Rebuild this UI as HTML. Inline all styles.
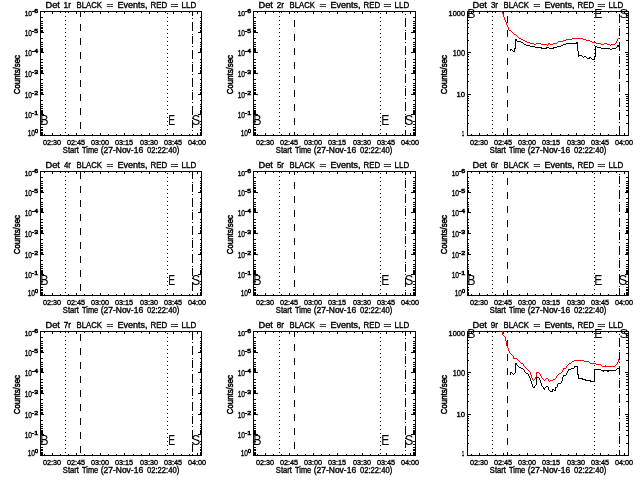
<!DOCTYPE html>
<html><head><meta charset="utf-8"><title>Det rates</title>
<style>html,body{margin:0;padding:0;background:#fff;width:640px;height:480px;overflow:hidden}svg{display:block}text{fill:#000;stroke:#000;stroke-width:0.35px}text.g{stroke-width:0}text.x{stroke-width:0.6px}text.c{stroke-width:0.5px}</style>
</head><body>
<svg width="640" height="480" viewBox="0 0 640 480" font-family="'Liberation Sans', Arial, sans-serif" shape-rendering="crispEdges">
<rect x="0" y="0" width="640" height="480" fill="#fff"/>
<rect x="40" y="11" width="162" height="1" fill="#000"/>
<rect x="40" y="135" width="162" height="1" fill="#000"/>
<rect x="40" y="11" width="1" height="125" fill="#000"/>
<rect x="201" y="11" width="1" height="125" fill="#000"/>
<rect x="44" y="12" width="1" height="1" fill="#000"/>
<rect x="44" y="134" width="1" height="1" fill="#000"/>
<rect x="52" y="12" width="1" height="2" fill="#000"/>
<rect x="52" y="133" width="1" height="2" fill="#000"/>
<rect x="60" y="12" width="1" height="1" fill="#000"/>
<rect x="60" y="134" width="1" height="1" fill="#000"/>
<rect x="68" y="12" width="1" height="1" fill="#000"/>
<rect x="68" y="134" width="1" height="1" fill="#000"/>
<rect x="76" y="12" width="1" height="2" fill="#000"/>
<rect x="76" y="133" width="1" height="2" fill="#000"/>
<rect x="84" y="12" width="1" height="1" fill="#000"/>
<rect x="84" y="134" width="1" height="1" fill="#000"/>
<rect x="92" y="12" width="1" height="1" fill="#000"/>
<rect x="92" y="134" width="1" height="1" fill="#000"/>
<rect x="100" y="12" width="1" height="2" fill="#000"/>
<rect x="100" y="133" width="1" height="2" fill="#000"/>
<rect x="108" y="12" width="1" height="1" fill="#000"/>
<rect x="108" y="134" width="1" height="1" fill="#000"/>
<rect x="116" y="12" width="1" height="1" fill="#000"/>
<rect x="116" y="134" width="1" height="1" fill="#000"/>
<rect x="124" y="12" width="1" height="2" fill="#000"/>
<rect x="124" y="133" width="1" height="2" fill="#000"/>
<rect x="133" y="12" width="1" height="1" fill="#000"/>
<rect x="133" y="134" width="1" height="1" fill="#000"/>
<rect x="141" y="12" width="1" height="1" fill="#000"/>
<rect x="141" y="134" width="1" height="1" fill="#000"/>
<rect x="149" y="12" width="1" height="2" fill="#000"/>
<rect x="149" y="133" width="1" height="2" fill="#000"/>
<rect x="157" y="12" width="1" height="1" fill="#000"/>
<rect x="157" y="134" width="1" height="1" fill="#000"/>
<rect x="165" y="12" width="1" height="1" fill="#000"/>
<rect x="165" y="134" width="1" height="1" fill="#000"/>
<rect x="173" y="12" width="1" height="2" fill="#000"/>
<rect x="173" y="133" width="1" height="2" fill="#000"/>
<rect x="181" y="12" width="1" height="1" fill="#000"/>
<rect x="181" y="134" width="1" height="1" fill="#000"/>
<rect x="189" y="12" width="1" height="1" fill="#000"/>
<rect x="189" y="134" width="1" height="1" fill="#000"/>
<rect x="197" y="12" width="1" height="2" fill="#000"/>
<rect x="197" y="133" width="1" height="2" fill="#000"/>
<text x="42.92" y="145" font-size="7.2" textLength="18.17" lengthAdjust="spacingAndGlyphs">02:30</text>
<text x="66.92" y="145" font-size="7.2" textLength="18.19" lengthAdjust="spacingAndGlyphs">02:45</text>
<text x="90.92" y="145" font-size="7.2" textLength="18.17" lengthAdjust="spacingAndGlyphs">03:00</text>
<text x="114.92" y="145" font-size="7.2" textLength="18.19" lengthAdjust="spacingAndGlyphs">03:15</text>
<text x="139.92" y="145" font-size="7.2" textLength="18.17" lengthAdjust="spacingAndGlyphs">03:30</text>
<text x="163.92" y="145" font-size="7.2" textLength="18.19" lengthAdjust="spacingAndGlyphs">03:45</text>
<text x="187.92" y="145" font-size="7.2" textLength="18.17" lengthAdjust="spacingAndGlyphs">04:00</text>
<text x="62.86" y="153" font-size="8.4" textLength="16.00" lengthAdjust="spacingAndGlyphs">Start</text>
<text x="82.04" y="153" font-size="8.4" textLength="16.08" lengthAdjust="spacingAndGlyphs">Time</text>
<text x="100.67" y="153" font-size="8.4" textLength="42.50" lengthAdjust="spacingAndGlyphs">(27-Nov-16</text>
<text x="146.90" y="153" font-size="8.4" textLength="32.37" lengthAdjust="spacingAndGlyphs">02:22:40)</text>
<text x="45.44" y="8" font-size="8.4" textLength="14.43" lengthAdjust="spacingAndGlyphs">Det</text>
<text x="63.57" y="8" font-size="8.4" textLength="7.37" lengthAdjust="spacingAndGlyphs">1r</text>
<text x="76.57" y="8" font-size="8.4" textLength="25.32" lengthAdjust="spacingAndGlyphs">BLACK</text>
<text x="106.64" y="8" font-size="8.4" textLength="6.73" lengthAdjust="spacingAndGlyphs">=</text>
<text x="117.46" y="8" font-size="8.4" textLength="30.15" lengthAdjust="spacingAndGlyphs">Events,</text>
<text x="150.55" y="8" font-size="8.4" textLength="16.62" lengthAdjust="spacingAndGlyphs">RED</text>
<text x="170.54" y="8" font-size="8.4" textLength="7.93" lengthAdjust="spacingAndGlyphs">=</text>
<text x="181.55" y="8" font-size="8.4" textLength="14.64" lengthAdjust="spacingAndGlyphs">LLD</text>
<text transform="translate(20,94.20) rotate(-90)" font-size="8.4" textLength="39.20" lengthAdjust="spacingAndGlyphs" class="c">Counts/sec</text>
<rect x="41" y="11" width="3" height="1" fill="#000"/>
<rect x="198" y="11" width="3" height="1" fill="#000"/>
<rect x="41" y="17" width="2" height="1" fill="#000"/>
<rect x="200" y="17" width="1" height="1" fill="#000"/>
<rect x="41" y="21" width="2" height="1" fill="#000"/>
<rect x="200" y="21" width="1" height="1" fill="#000"/>
<rect x="41" y="23" width="2" height="1" fill="#000"/>
<rect x="200" y="23" width="1" height="1" fill="#000"/>
<rect x="41" y="25" width="2" height="1" fill="#000"/>
<rect x="200" y="25" width="1" height="1" fill="#000"/>
<rect x="41" y="27" width="2" height="1" fill="#000"/>
<rect x="200" y="27" width="1" height="1" fill="#000"/>
<rect x="41" y="28" width="2" height="1" fill="#000"/>
<rect x="200" y="28" width="1" height="1" fill="#000"/>
<rect x="41" y="30" width="2" height="1" fill="#000"/>
<rect x="200" y="30" width="1" height="1" fill="#000"/>
<rect x="41" y="31" width="2" height="1" fill="#000"/>
<rect x="200" y="31" width="1" height="1" fill="#000"/>
<text x="24.70" y="16" font-size="7.2" textLength="7.36" lengthAdjust="spacingAndGlyphs">10</text>
<text x="31.89" y="13" font-size="6" textLength="6.22" lengthAdjust="spacingAndGlyphs" class="x">-6</text>
<rect x="41" y="32" width="3" height="1" fill="#000"/>
<rect x="198" y="32" width="3" height="1" fill="#000"/>
<rect x="41" y="38" width="2" height="1" fill="#000"/>
<rect x="200" y="38" width="1" height="1" fill="#000"/>
<rect x="41" y="42" width="2" height="1" fill="#000"/>
<rect x="200" y="42" width="1" height="1" fill="#000"/>
<rect x="41" y="44" width="2" height="1" fill="#000"/>
<rect x="200" y="44" width="1" height="1" fill="#000"/>
<rect x="41" y="46" width="2" height="1" fill="#000"/>
<rect x="200" y="46" width="1" height="1" fill="#000"/>
<rect x="41" y="48" width="2" height="1" fill="#000"/>
<rect x="200" y="48" width="1" height="1" fill="#000"/>
<rect x="41" y="49" width="2" height="1" fill="#000"/>
<rect x="200" y="49" width="1" height="1" fill="#000"/>
<rect x="41" y="50" width="2" height="1" fill="#000"/>
<rect x="200" y="50" width="1" height="1" fill="#000"/>
<rect x="41" y="51" width="2" height="1" fill="#000"/>
<rect x="200" y="51" width="1" height="1" fill="#000"/>
<text x="24.70" y="36" font-size="8.4" textLength="7.36" lengthAdjust="spacingAndGlyphs">10</text>
<text x="31.89" y="33" font-size="6" textLength="6.20" lengthAdjust="spacingAndGlyphs" class="x">-5</text>
<rect x="41" y="52" width="3" height="1" fill="#000"/>
<rect x="198" y="52" width="3" height="1" fill="#000"/>
<rect x="41" y="59" width="2" height="1" fill="#000"/>
<rect x="200" y="59" width="1" height="1" fill="#000"/>
<rect x="41" y="62" width="2" height="1" fill="#000"/>
<rect x="200" y="62" width="1" height="1" fill="#000"/>
<rect x="41" y="65" width="2" height="1" fill="#000"/>
<rect x="200" y="65" width="1" height="1" fill="#000"/>
<rect x="41" y="67" width="2" height="1" fill="#000"/>
<rect x="200" y="67" width="1" height="1" fill="#000"/>
<rect x="41" y="68" width="2" height="1" fill="#000"/>
<rect x="200" y="68" width="1" height="1" fill="#000"/>
<rect x="41" y="70" width="2" height="1" fill="#000"/>
<rect x="200" y="70" width="1" height="1" fill="#000"/>
<rect x="41" y="71" width="2" height="1" fill="#000"/>
<rect x="200" y="71" width="1" height="1" fill="#000"/>
<rect x="41" y="72" width="2" height="1" fill="#000"/>
<rect x="200" y="72" width="1" height="1" fill="#000"/>
<text x="24.70" y="56" font-size="8.4" textLength="7.36" lengthAdjust="spacingAndGlyphs">10</text>
<text x="31.89" y="53" font-size="6" textLength="6.11" lengthAdjust="spacingAndGlyphs" class="x">-4</text>
<rect x="41" y="73" width="3" height="1" fill="#000"/>
<rect x="198" y="73" width="3" height="1" fill="#000"/>
<rect x="41" y="79" width="2" height="1" fill="#000"/>
<rect x="200" y="79" width="1" height="1" fill="#000"/>
<rect x="41" y="83" width="2" height="1" fill="#000"/>
<rect x="200" y="83" width="1" height="1" fill="#000"/>
<rect x="41" y="85" width="2" height="1" fill="#000"/>
<rect x="200" y="85" width="1" height="1" fill="#000"/>
<rect x="41" y="87" width="2" height="1" fill="#000"/>
<rect x="200" y="87" width="1" height="1" fill="#000"/>
<rect x="41" y="89" width="2" height="1" fill="#000"/>
<rect x="200" y="89" width="1" height="1" fill="#000"/>
<rect x="41" y="90" width="2" height="1" fill="#000"/>
<rect x="200" y="90" width="1" height="1" fill="#000"/>
<rect x="41" y="92" width="2" height="1" fill="#000"/>
<rect x="200" y="92" width="1" height="1" fill="#000"/>
<rect x="41" y="93" width="2" height="1" fill="#000"/>
<rect x="200" y="93" width="1" height="1" fill="#000"/>
<text x="24.70" y="77" font-size="8.4" textLength="7.36" lengthAdjust="spacingAndGlyphs">10</text>
<text x="31.89" y="74" font-size="6" textLength="6.22" lengthAdjust="spacingAndGlyphs" class="x">-3</text>
<rect x="41" y="94" width="3" height="1" fill="#000"/>
<rect x="198" y="94" width="3" height="1" fill="#000"/>
<rect x="41" y="100" width="2" height="1" fill="#000"/>
<rect x="200" y="100" width="1" height="1" fill="#000"/>
<rect x="41" y="104" width="2" height="1" fill="#000"/>
<rect x="200" y="104" width="1" height="1" fill="#000"/>
<rect x="41" y="106" width="2" height="1" fill="#000"/>
<rect x="200" y="106" width="1" height="1" fill="#000"/>
<rect x="41" y="108" width="2" height="1" fill="#000"/>
<rect x="200" y="108" width="1" height="1" fill="#000"/>
<rect x="41" y="110" width="2" height="1" fill="#000"/>
<rect x="200" y="110" width="1" height="1" fill="#000"/>
<rect x="41" y="111" width="2" height="1" fill="#000"/>
<rect x="200" y="111" width="1" height="1" fill="#000"/>
<rect x="41" y="112" width="2" height="1" fill="#000"/>
<rect x="200" y="112" width="1" height="1" fill="#000"/>
<rect x="41" y="113" width="2" height="1" fill="#000"/>
<rect x="200" y="113" width="1" height="1" fill="#000"/>
<text x="24.70" y="98" font-size="8.4" textLength="7.36" lengthAdjust="spacingAndGlyphs">10</text>
<text x="31.89" y="95" font-size="6" textLength="6.27" lengthAdjust="spacingAndGlyphs" class="x">-2</text>
<rect x="41" y="114" width="3" height="1" fill="#000"/>
<rect x="198" y="114" width="3" height="1" fill="#000"/>
<rect x="41" y="121" width="2" height="1" fill="#000"/>
<rect x="200" y="121" width="1" height="1" fill="#000"/>
<rect x="41" y="124" width="2" height="1" fill="#000"/>
<rect x="200" y="124" width="1" height="1" fill="#000"/>
<rect x="41" y="127" width="2" height="1" fill="#000"/>
<rect x="200" y="127" width="1" height="1" fill="#000"/>
<rect x="41" y="129" width="2" height="1" fill="#000"/>
<rect x="200" y="129" width="1" height="1" fill="#000"/>
<rect x="41" y="130" width="2" height="1" fill="#000"/>
<rect x="200" y="130" width="1" height="1" fill="#000"/>
<rect x="41" y="132" width="2" height="1" fill="#000"/>
<rect x="200" y="132" width="1" height="1" fill="#000"/>
<rect x="41" y="133" width="2" height="1" fill="#000"/>
<rect x="200" y="133" width="1" height="1" fill="#000"/>
<rect x="41" y="134" width="2" height="1" fill="#000"/>
<rect x="200" y="134" width="1" height="1" fill="#000"/>
<text x="24.70" y="118" font-size="8.4" textLength="7.36" lengthAdjust="spacingAndGlyphs">10</text>
<text x="31.89" y="115" font-size="6" textLength="6.26" lengthAdjust="spacingAndGlyphs" class="x">-1</text>
<rect x="41" y="135" width="3" height="1" fill="#000"/>
<rect x="198" y="135" width="3" height="1" fill="#000"/>
<text x="27.70" y="136" font-size="8.4" textLength="7.36" lengthAdjust="spacingAndGlyphs">10</text>
<text x="34.99" y="133" font-size="6" textLength="3.02" lengthAdjust="spacingAndGlyphs" class="x">0</text>
<rect x="65" y="12" width="1" height="1" fill="#000"/>
<rect x="65" y="16" width="1" height="1" fill="#000"/>
<rect x="65" y="20" width="1" height="1" fill="#000"/>
<rect x="65" y="24" width="1" height="1" fill="#000"/>
<rect x="65" y="28" width="1" height="1" fill="#000"/>
<rect x="65" y="32" width="1" height="1" fill="#000"/>
<rect x="65" y="36" width="1" height="1" fill="#000"/>
<rect x="65" y="40" width="1" height="1" fill="#000"/>
<rect x="65" y="44" width="1" height="1" fill="#000"/>
<rect x="65" y="48" width="1" height="1" fill="#000"/>
<rect x="65" y="52" width="1" height="1" fill="#000"/>
<rect x="65" y="56" width="1" height="1" fill="#000"/>
<rect x="65" y="60" width="1" height="1" fill="#000"/>
<rect x="65" y="64" width="1" height="1" fill="#000"/>
<rect x="65" y="68" width="1" height="1" fill="#000"/>
<rect x="65" y="72" width="1" height="1" fill="#000"/>
<rect x="65" y="76" width="1" height="1" fill="#000"/>
<rect x="65" y="80" width="1" height="1" fill="#000"/>
<rect x="65" y="84" width="1" height="1" fill="#000"/>
<rect x="65" y="88" width="1" height="1" fill="#000"/>
<rect x="65" y="92" width="1" height="1" fill="#000"/>
<rect x="65" y="96" width="1" height="1" fill="#000"/>
<rect x="65" y="100" width="1" height="1" fill="#000"/>
<rect x="65" y="104" width="1" height="1" fill="#000"/>
<rect x="65" y="108" width="1" height="1" fill="#000"/>
<rect x="65" y="112" width="1" height="1" fill="#000"/>
<rect x="65" y="116" width="1" height="1" fill="#000"/>
<rect x="65" y="120" width="1" height="1" fill="#000"/>
<rect x="65" y="124" width="1" height="1" fill="#000"/>
<rect x="65" y="128" width="1" height="1" fill="#000"/>
<rect x="65" y="132" width="1" height="1" fill="#000"/>
<rect x="80" y="12" width="1" height="5" fill="#000"/>
<rect x="80" y="24" width="1" height="7" fill="#000"/>
<rect x="80" y="38" width="1" height="7" fill="#000"/>
<rect x="80" y="52" width="1" height="7" fill="#000"/>
<rect x="80" y="66" width="1" height="7" fill="#000"/>
<rect x="80" y="80" width="1" height="7" fill="#000"/>
<rect x="80" y="94" width="1" height="7" fill="#000"/>
<rect x="80" y="108" width="1" height="7" fill="#000"/>
<rect x="80" y="122" width="1" height="7" fill="#000"/>
<rect x="167" y="13" width="1" height="1" fill="#000"/>
<rect x="167" y="17" width="1" height="1" fill="#000"/>
<rect x="167" y="21" width="1" height="1" fill="#000"/>
<rect x="167" y="25" width="1" height="1" fill="#000"/>
<rect x="167" y="29" width="1" height="1" fill="#000"/>
<rect x="167" y="33" width="1" height="1" fill="#000"/>
<rect x="167" y="37" width="1" height="1" fill="#000"/>
<rect x="167" y="41" width="1" height="1" fill="#000"/>
<rect x="167" y="45" width="1" height="1" fill="#000"/>
<rect x="167" y="49" width="1" height="1" fill="#000"/>
<rect x="167" y="53" width="1" height="1" fill="#000"/>
<rect x="167" y="57" width="1" height="1" fill="#000"/>
<rect x="167" y="61" width="1" height="1" fill="#000"/>
<rect x="167" y="65" width="1" height="1" fill="#000"/>
<rect x="167" y="69" width="1" height="1" fill="#000"/>
<rect x="167" y="73" width="1" height="1" fill="#000"/>
<rect x="167" y="77" width="1" height="1" fill="#000"/>
<rect x="167" y="81" width="1" height="1" fill="#000"/>
<rect x="167" y="85" width="1" height="1" fill="#000"/>
<rect x="167" y="89" width="1" height="1" fill="#000"/>
<rect x="167" y="93" width="1" height="1" fill="#000"/>
<rect x="167" y="97" width="1" height="1" fill="#000"/>
<rect x="167" y="101" width="1" height="1" fill="#000"/>
<rect x="167" y="105" width="1" height="1" fill="#000"/>
<rect x="167" y="109" width="1" height="1" fill="#000"/>
<rect x="167" y="113" width="1" height="1" fill="#000"/>
<rect x="167" y="117" width="1" height="1" fill="#000"/>
<rect x="167" y="121" width="1" height="1" fill="#000"/>
<rect x="167" y="125" width="1" height="1" fill="#000"/>
<rect x="167" y="129" width="1" height="1" fill="#000"/>
<rect x="167" y="133" width="1" height="1" fill="#000"/>
<rect x="192" y="12" width="1" height="4" fill="#000"/>
<rect x="192" y="18" width="1" height="1" fill="#000"/>
<rect x="192" y="22" width="1" height="9" fill="#000"/>
<rect x="192" y="34" width="1" height="1" fill="#000"/>
<rect x="192" y="36" width="1" height="8" fill="#000"/>
<rect x="192" y="46" width="1" height="1" fill="#000"/>
<rect x="192" y="50" width="1" height="9" fill="#000"/>
<rect x="192" y="62" width="1" height="1" fill="#000"/>
<rect x="192" y="64" width="1" height="8" fill="#000"/>
<rect x="192" y="74" width="1" height="1" fill="#000"/>
<rect x="192" y="78" width="1" height="9" fill="#000"/>
<rect x="192" y="90" width="1" height="1" fill="#000"/>
<rect x="192" y="92" width="1" height="8" fill="#000"/>
<rect x="192" y="102" width="1" height="1" fill="#000"/>
<rect x="192" y="106" width="1" height="9" fill="#000"/>
<rect x="192" y="118" width="1" height="1" fill="#000"/>
<rect x="192" y="120" width="1" height="8" fill="#000"/>
<rect x="192" y="130" width="1" height="1" fill="#000"/>
<rect x="192" y="134" width="1" height="1" fill="#000"/>
<text x="40.18" y="125" font-size="14" textLength="8.27" lengthAdjust="spacingAndGlyphs" class="g">B</text>
<text x="168.35" y="125" font-size="14" textLength="6.89" lengthAdjust="spacingAndGlyphs" class="g">E</text>
<text x="191.60" y="125" font-size="14" textLength="8.81" lengthAdjust="spacingAndGlyphs" class="g">S</text>
<rect x="253" y="11" width="163" height="1" fill="#000"/>
<rect x="253" y="135" width="163" height="1" fill="#000"/>
<rect x="253" y="11" width="1" height="125" fill="#000"/>
<rect x="415" y="11" width="1" height="125" fill="#000"/>
<rect x="257" y="12" width="1" height="1" fill="#000"/>
<rect x="257" y="134" width="1" height="1" fill="#000"/>
<rect x="265" y="12" width="1" height="2" fill="#000"/>
<rect x="265" y="133" width="1" height="2" fill="#000"/>
<rect x="273" y="12" width="1" height="1" fill="#000"/>
<rect x="273" y="134" width="1" height="1" fill="#000"/>
<rect x="281" y="12" width="1" height="1" fill="#000"/>
<rect x="281" y="134" width="1" height="1" fill="#000"/>
<rect x="289" y="12" width="1" height="2" fill="#000"/>
<rect x="289" y="133" width="1" height="2" fill="#000"/>
<rect x="297" y="12" width="1" height="1" fill="#000"/>
<rect x="297" y="134" width="1" height="1" fill="#000"/>
<rect x="305" y="12" width="1" height="1" fill="#000"/>
<rect x="305" y="134" width="1" height="1" fill="#000"/>
<rect x="313" y="12" width="1" height="2" fill="#000"/>
<rect x="313" y="133" width="1" height="2" fill="#000"/>
<rect x="321" y="12" width="1" height="1" fill="#000"/>
<rect x="321" y="134" width="1" height="1" fill="#000"/>
<rect x="329" y="12" width="1" height="1" fill="#000"/>
<rect x="329" y="134" width="1" height="1" fill="#000"/>
<rect x="337" y="12" width="1" height="2" fill="#000"/>
<rect x="337" y="133" width="1" height="2" fill="#000"/>
<rect x="346" y="12" width="1" height="1" fill="#000"/>
<rect x="346" y="134" width="1" height="1" fill="#000"/>
<rect x="354" y="12" width="1" height="1" fill="#000"/>
<rect x="354" y="134" width="1" height="1" fill="#000"/>
<rect x="362" y="12" width="1" height="2" fill="#000"/>
<rect x="362" y="133" width="1" height="2" fill="#000"/>
<rect x="370" y="12" width="1" height="1" fill="#000"/>
<rect x="370" y="134" width="1" height="1" fill="#000"/>
<rect x="378" y="12" width="1" height="1" fill="#000"/>
<rect x="378" y="134" width="1" height="1" fill="#000"/>
<rect x="386" y="12" width="1" height="2" fill="#000"/>
<rect x="386" y="133" width="1" height="2" fill="#000"/>
<rect x="394" y="12" width="1" height="1" fill="#000"/>
<rect x="394" y="134" width="1" height="1" fill="#000"/>
<rect x="402" y="12" width="1" height="1" fill="#000"/>
<rect x="402" y="134" width="1" height="1" fill="#000"/>
<rect x="410" y="12" width="1" height="2" fill="#000"/>
<rect x="410" y="133" width="1" height="2" fill="#000"/>
<text x="255.92" y="145" font-size="7.2" textLength="18.17" lengthAdjust="spacingAndGlyphs">02:30</text>
<text x="279.92" y="145" font-size="7.2" textLength="18.19" lengthAdjust="spacingAndGlyphs">02:45</text>
<text x="303.92" y="145" font-size="7.2" textLength="18.17" lengthAdjust="spacingAndGlyphs">03:00</text>
<text x="327.92" y="145" font-size="7.2" textLength="18.19" lengthAdjust="spacingAndGlyphs">03:15</text>
<text x="352.92" y="145" font-size="7.2" textLength="18.17" lengthAdjust="spacingAndGlyphs">03:30</text>
<text x="376.92" y="145" font-size="7.2" textLength="18.19" lengthAdjust="spacingAndGlyphs">03:45</text>
<text x="400.92" y="145" font-size="7.2" textLength="18.17" lengthAdjust="spacingAndGlyphs">04:00</text>
<text x="275.86" y="153" font-size="8.4" textLength="16.00" lengthAdjust="spacingAndGlyphs">Start</text>
<text x="295.04" y="153" font-size="8.4" textLength="16.08" lengthAdjust="spacingAndGlyphs">Time</text>
<text x="313.67" y="153" font-size="8.4" textLength="42.50" lengthAdjust="spacingAndGlyphs">(27-Nov-16</text>
<text x="359.90" y="153" font-size="8.4" textLength="32.37" lengthAdjust="spacingAndGlyphs">02:22:40)</text>
<text x="258.44" y="8" font-size="8.4" textLength="14.43" lengthAdjust="spacingAndGlyphs">Det</text>
<text x="276.80" y="8" font-size="8.4" textLength="7.14" lengthAdjust="spacingAndGlyphs">2r</text>
<text x="289.57" y="8" font-size="8.4" textLength="25.32" lengthAdjust="spacingAndGlyphs">BLACK</text>
<text x="319.64" y="8" font-size="8.4" textLength="6.73" lengthAdjust="spacingAndGlyphs">=</text>
<text x="330.46" y="8" font-size="8.4" textLength="30.15" lengthAdjust="spacingAndGlyphs">Events,</text>
<text x="363.55" y="8" font-size="8.4" textLength="16.62" lengthAdjust="spacingAndGlyphs">RED</text>
<text x="383.54" y="8" font-size="8.4" textLength="7.93" lengthAdjust="spacingAndGlyphs">=</text>
<text x="394.55" y="8" font-size="8.4" textLength="14.64" lengthAdjust="spacingAndGlyphs">LLD</text>
<text transform="translate(233,94.20) rotate(-90)" font-size="8.4" textLength="39.20" lengthAdjust="spacingAndGlyphs" class="c">Counts/sec</text>
<rect x="254" y="11" width="4" height="1" fill="#000"/>
<rect x="411" y="11" width="4" height="1" fill="#000"/>
<rect x="254" y="17" width="2" height="1" fill="#000"/>
<rect x="413" y="17" width="2" height="1" fill="#000"/>
<rect x="254" y="21" width="2" height="1" fill="#000"/>
<rect x="413" y="21" width="2" height="1" fill="#000"/>
<rect x="254" y="23" width="2" height="1" fill="#000"/>
<rect x="413" y="23" width="2" height="1" fill="#000"/>
<rect x="254" y="25" width="2" height="1" fill="#000"/>
<rect x="413" y="25" width="2" height="1" fill="#000"/>
<rect x="254" y="27" width="2" height="1" fill="#000"/>
<rect x="413" y="27" width="2" height="1" fill="#000"/>
<rect x="254" y="28" width="2" height="1" fill="#000"/>
<rect x="413" y="28" width="2" height="1" fill="#000"/>
<rect x="254" y="30" width="2" height="1" fill="#000"/>
<rect x="413" y="30" width="2" height="1" fill="#000"/>
<rect x="254" y="31" width="2" height="1" fill="#000"/>
<rect x="413" y="31" width="2" height="1" fill="#000"/>
<text x="237.70" y="16" font-size="7.2" textLength="7.36" lengthAdjust="spacingAndGlyphs">10</text>
<text x="244.89" y="13" font-size="6" textLength="6.22" lengthAdjust="spacingAndGlyphs" class="x">-6</text>
<rect x="254" y="32" width="4" height="1" fill="#000"/>
<rect x="411" y="32" width="4" height="1" fill="#000"/>
<rect x="254" y="38" width="2" height="1" fill="#000"/>
<rect x="413" y="38" width="2" height="1" fill="#000"/>
<rect x="254" y="42" width="2" height="1" fill="#000"/>
<rect x="413" y="42" width="2" height="1" fill="#000"/>
<rect x="254" y="44" width="2" height="1" fill="#000"/>
<rect x="413" y="44" width="2" height="1" fill="#000"/>
<rect x="254" y="46" width="2" height="1" fill="#000"/>
<rect x="413" y="46" width="2" height="1" fill="#000"/>
<rect x="254" y="48" width="2" height="1" fill="#000"/>
<rect x="413" y="48" width="2" height="1" fill="#000"/>
<rect x="254" y="49" width="2" height="1" fill="#000"/>
<rect x="413" y="49" width="2" height="1" fill="#000"/>
<rect x="254" y="50" width="2" height="1" fill="#000"/>
<rect x="413" y="50" width="2" height="1" fill="#000"/>
<rect x="254" y="51" width="2" height="1" fill="#000"/>
<rect x="413" y="51" width="2" height="1" fill="#000"/>
<text x="237.70" y="36" font-size="8.4" textLength="7.36" lengthAdjust="spacingAndGlyphs">10</text>
<text x="244.89" y="33" font-size="6" textLength="6.20" lengthAdjust="spacingAndGlyphs" class="x">-5</text>
<rect x="254" y="52" width="4" height="1" fill="#000"/>
<rect x="411" y="52" width="4" height="1" fill="#000"/>
<rect x="254" y="59" width="2" height="1" fill="#000"/>
<rect x="413" y="59" width="2" height="1" fill="#000"/>
<rect x="254" y="62" width="2" height="1" fill="#000"/>
<rect x="413" y="62" width="2" height="1" fill="#000"/>
<rect x="254" y="65" width="2" height="1" fill="#000"/>
<rect x="413" y="65" width="2" height="1" fill="#000"/>
<rect x="254" y="67" width="2" height="1" fill="#000"/>
<rect x="413" y="67" width="2" height="1" fill="#000"/>
<rect x="254" y="68" width="2" height="1" fill="#000"/>
<rect x="413" y="68" width="2" height="1" fill="#000"/>
<rect x="254" y="70" width="2" height="1" fill="#000"/>
<rect x="413" y="70" width="2" height="1" fill="#000"/>
<rect x="254" y="71" width="2" height="1" fill="#000"/>
<rect x="413" y="71" width="2" height="1" fill="#000"/>
<rect x="254" y="72" width="2" height="1" fill="#000"/>
<rect x="413" y="72" width="2" height="1" fill="#000"/>
<text x="237.70" y="56" font-size="8.4" textLength="7.36" lengthAdjust="spacingAndGlyphs">10</text>
<text x="244.89" y="53" font-size="6" textLength="6.11" lengthAdjust="spacingAndGlyphs" class="x">-4</text>
<rect x="254" y="73" width="4" height="1" fill="#000"/>
<rect x="411" y="73" width="4" height="1" fill="#000"/>
<rect x="254" y="79" width="2" height="1" fill="#000"/>
<rect x="413" y="79" width="2" height="1" fill="#000"/>
<rect x="254" y="83" width="2" height="1" fill="#000"/>
<rect x="413" y="83" width="2" height="1" fill="#000"/>
<rect x="254" y="85" width="2" height="1" fill="#000"/>
<rect x="413" y="85" width="2" height="1" fill="#000"/>
<rect x="254" y="87" width="2" height="1" fill="#000"/>
<rect x="413" y="87" width="2" height="1" fill="#000"/>
<rect x="254" y="89" width="2" height="1" fill="#000"/>
<rect x="413" y="89" width="2" height="1" fill="#000"/>
<rect x="254" y="90" width="2" height="1" fill="#000"/>
<rect x="413" y="90" width="2" height="1" fill="#000"/>
<rect x="254" y="92" width="2" height="1" fill="#000"/>
<rect x="413" y="92" width="2" height="1" fill="#000"/>
<rect x="254" y="93" width="2" height="1" fill="#000"/>
<rect x="413" y="93" width="2" height="1" fill="#000"/>
<text x="237.70" y="77" font-size="8.4" textLength="7.36" lengthAdjust="spacingAndGlyphs">10</text>
<text x="244.89" y="74" font-size="6" textLength="6.22" lengthAdjust="spacingAndGlyphs" class="x">-3</text>
<rect x="254" y="94" width="4" height="1" fill="#000"/>
<rect x="411" y="94" width="4" height="1" fill="#000"/>
<rect x="254" y="100" width="2" height="1" fill="#000"/>
<rect x="413" y="100" width="2" height="1" fill="#000"/>
<rect x="254" y="104" width="2" height="1" fill="#000"/>
<rect x="413" y="104" width="2" height="1" fill="#000"/>
<rect x="254" y="106" width="2" height="1" fill="#000"/>
<rect x="413" y="106" width="2" height="1" fill="#000"/>
<rect x="254" y="108" width="2" height="1" fill="#000"/>
<rect x="413" y="108" width="2" height="1" fill="#000"/>
<rect x="254" y="110" width="2" height="1" fill="#000"/>
<rect x="413" y="110" width="2" height="1" fill="#000"/>
<rect x="254" y="111" width="2" height="1" fill="#000"/>
<rect x="413" y="111" width="2" height="1" fill="#000"/>
<rect x="254" y="112" width="2" height="1" fill="#000"/>
<rect x="413" y="112" width="2" height="1" fill="#000"/>
<rect x="254" y="113" width="2" height="1" fill="#000"/>
<rect x="413" y="113" width="2" height="1" fill="#000"/>
<text x="237.70" y="98" font-size="8.4" textLength="7.36" lengthAdjust="spacingAndGlyphs">10</text>
<text x="244.89" y="95" font-size="6" textLength="6.27" lengthAdjust="spacingAndGlyphs" class="x">-2</text>
<rect x="254" y="114" width="4" height="1" fill="#000"/>
<rect x="411" y="114" width="4" height="1" fill="#000"/>
<rect x="254" y="121" width="2" height="1" fill="#000"/>
<rect x="413" y="121" width="2" height="1" fill="#000"/>
<rect x="254" y="124" width="2" height="1" fill="#000"/>
<rect x="413" y="124" width="2" height="1" fill="#000"/>
<rect x="254" y="127" width="2" height="1" fill="#000"/>
<rect x="413" y="127" width="2" height="1" fill="#000"/>
<rect x="254" y="129" width="2" height="1" fill="#000"/>
<rect x="413" y="129" width="2" height="1" fill="#000"/>
<rect x="254" y="130" width="2" height="1" fill="#000"/>
<rect x="413" y="130" width="2" height="1" fill="#000"/>
<rect x="254" y="132" width="2" height="1" fill="#000"/>
<rect x="413" y="132" width="2" height="1" fill="#000"/>
<rect x="254" y="133" width="2" height="1" fill="#000"/>
<rect x="413" y="133" width="2" height="1" fill="#000"/>
<rect x="254" y="134" width="2" height="1" fill="#000"/>
<rect x="413" y="134" width="2" height="1" fill="#000"/>
<text x="237.70" y="118" font-size="8.4" textLength="7.36" lengthAdjust="spacingAndGlyphs">10</text>
<text x="244.89" y="115" font-size="6" textLength="6.26" lengthAdjust="spacingAndGlyphs" class="x">-1</text>
<rect x="254" y="135" width="4" height="1" fill="#000"/>
<rect x="411" y="135" width="4" height="1" fill="#000"/>
<text x="240.70" y="136" font-size="8.4" textLength="7.36" lengthAdjust="spacingAndGlyphs">10</text>
<text x="247.99" y="133" font-size="6" textLength="3.02" lengthAdjust="spacingAndGlyphs" class="x">0</text>
<rect x="279" y="12" width="1" height="1" fill="#000"/>
<rect x="279" y="16" width="1" height="1" fill="#000"/>
<rect x="279" y="20" width="1" height="1" fill="#000"/>
<rect x="279" y="24" width="1" height="1" fill="#000"/>
<rect x="279" y="28" width="1" height="1" fill="#000"/>
<rect x="279" y="32" width="1" height="1" fill="#000"/>
<rect x="279" y="36" width="1" height="1" fill="#000"/>
<rect x="279" y="40" width="1" height="1" fill="#000"/>
<rect x="279" y="44" width="1" height="1" fill="#000"/>
<rect x="279" y="48" width="1" height="1" fill="#000"/>
<rect x="279" y="52" width="1" height="1" fill="#000"/>
<rect x="279" y="56" width="1" height="1" fill="#000"/>
<rect x="279" y="60" width="1" height="1" fill="#000"/>
<rect x="279" y="64" width="1" height="1" fill="#000"/>
<rect x="279" y="68" width="1" height="1" fill="#000"/>
<rect x="279" y="72" width="1" height="1" fill="#000"/>
<rect x="279" y="76" width="1" height="1" fill="#000"/>
<rect x="279" y="80" width="1" height="1" fill="#000"/>
<rect x="279" y="84" width="1" height="1" fill="#000"/>
<rect x="279" y="88" width="1" height="1" fill="#000"/>
<rect x="279" y="92" width="1" height="1" fill="#000"/>
<rect x="279" y="96" width="1" height="1" fill="#000"/>
<rect x="279" y="100" width="1" height="1" fill="#000"/>
<rect x="279" y="104" width="1" height="1" fill="#000"/>
<rect x="279" y="108" width="1" height="1" fill="#000"/>
<rect x="279" y="112" width="1" height="1" fill="#000"/>
<rect x="279" y="116" width="1" height="1" fill="#000"/>
<rect x="279" y="120" width="1" height="1" fill="#000"/>
<rect x="279" y="124" width="1" height="1" fill="#000"/>
<rect x="279" y="128" width="1" height="1" fill="#000"/>
<rect x="279" y="132" width="1" height="1" fill="#000"/>
<rect x="294" y="12" width="1" height="1" fill="#000"/>
<rect x="294" y="20" width="1" height="7" fill="#000"/>
<rect x="294" y="34" width="1" height="7" fill="#000"/>
<rect x="294" y="48" width="1" height="7" fill="#000"/>
<rect x="294" y="62" width="1" height="7" fill="#000"/>
<rect x="294" y="76" width="1" height="7" fill="#000"/>
<rect x="294" y="90" width="1" height="7" fill="#000"/>
<rect x="294" y="104" width="1" height="7" fill="#000"/>
<rect x="294" y="118" width="1" height="7" fill="#000"/>
<rect x="294" y="132" width="1" height="3" fill="#000"/>
<rect x="380" y="13" width="1" height="1" fill="#000"/>
<rect x="380" y="17" width="1" height="1" fill="#000"/>
<rect x="380" y="21" width="1" height="1" fill="#000"/>
<rect x="380" y="25" width="1" height="1" fill="#000"/>
<rect x="380" y="29" width="1" height="1" fill="#000"/>
<rect x="380" y="33" width="1" height="1" fill="#000"/>
<rect x="380" y="37" width="1" height="1" fill="#000"/>
<rect x="380" y="41" width="1" height="1" fill="#000"/>
<rect x="380" y="45" width="1" height="1" fill="#000"/>
<rect x="380" y="49" width="1" height="1" fill="#000"/>
<rect x="380" y="53" width="1" height="1" fill="#000"/>
<rect x="380" y="57" width="1" height="1" fill="#000"/>
<rect x="380" y="61" width="1" height="1" fill="#000"/>
<rect x="380" y="65" width="1" height="1" fill="#000"/>
<rect x="380" y="69" width="1" height="1" fill="#000"/>
<rect x="380" y="73" width="1" height="1" fill="#000"/>
<rect x="380" y="77" width="1" height="1" fill="#000"/>
<rect x="380" y="81" width="1" height="1" fill="#000"/>
<rect x="380" y="85" width="1" height="1" fill="#000"/>
<rect x="380" y="89" width="1" height="1" fill="#000"/>
<rect x="380" y="93" width="1" height="1" fill="#000"/>
<rect x="380" y="97" width="1" height="1" fill="#000"/>
<rect x="380" y="101" width="1" height="1" fill="#000"/>
<rect x="380" y="105" width="1" height="1" fill="#000"/>
<rect x="380" y="109" width="1" height="1" fill="#000"/>
<rect x="380" y="113" width="1" height="1" fill="#000"/>
<rect x="380" y="117" width="1" height="1" fill="#000"/>
<rect x="380" y="121" width="1" height="1" fill="#000"/>
<rect x="380" y="125" width="1" height="1" fill="#000"/>
<rect x="380" y="129" width="1" height="1" fill="#000"/>
<rect x="380" y="133" width="1" height="1" fill="#000"/>
<rect x="405" y="14" width="1" height="1" fill="#000"/>
<rect x="405" y="18" width="1" height="9" fill="#000"/>
<rect x="405" y="30" width="1" height="1" fill="#000"/>
<rect x="405" y="32" width="1" height="8" fill="#000"/>
<rect x="405" y="42" width="1" height="1" fill="#000"/>
<rect x="405" y="46" width="1" height="9" fill="#000"/>
<rect x="405" y="58" width="1" height="1" fill="#000"/>
<rect x="405" y="60" width="1" height="8" fill="#000"/>
<rect x="405" y="70" width="1" height="1" fill="#000"/>
<rect x="405" y="74" width="1" height="9" fill="#000"/>
<rect x="405" y="86" width="1" height="1" fill="#000"/>
<rect x="405" y="88" width="1" height="8" fill="#000"/>
<rect x="405" y="98" width="1" height="1" fill="#000"/>
<rect x="405" y="102" width="1" height="9" fill="#000"/>
<rect x="405" y="114" width="1" height="1" fill="#000"/>
<rect x="405" y="116" width="1" height="8" fill="#000"/>
<rect x="405" y="126" width="1" height="1" fill="#000"/>
<rect x="405" y="130" width="1" height="5" fill="#000"/>
<text x="253.18" y="125" font-size="14" textLength="8.27" lengthAdjust="spacingAndGlyphs" class="g">B</text>
<text x="381.20" y="125" font-size="14" textLength="8.12" lengthAdjust="spacingAndGlyphs" class="g">E</text>
<text x="404.60" y="125" font-size="14" textLength="8.81" lengthAdjust="spacingAndGlyphs" class="g">S</text>
<rect x="467" y="11" width="162" height="1" fill="#000"/>
<rect x="467" y="135" width="162" height="1" fill="#000"/>
<rect x="467" y="11" width="1" height="125" fill="#000"/>
<rect x="628" y="11" width="1" height="125" fill="#000"/>
<rect x="471" y="12" width="1" height="1" fill="#000"/>
<rect x="471" y="134" width="1" height="1" fill="#000"/>
<rect x="479" y="12" width="1" height="2" fill="#000"/>
<rect x="479" y="133" width="1" height="2" fill="#000"/>
<rect x="487" y="12" width="1" height="1" fill="#000"/>
<rect x="487" y="134" width="1" height="1" fill="#000"/>
<rect x="495" y="12" width="1" height="1" fill="#000"/>
<rect x="495" y="134" width="1" height="1" fill="#000"/>
<rect x="503" y="12" width="1" height="2" fill="#000"/>
<rect x="503" y="133" width="1" height="2" fill="#000"/>
<rect x="511" y="12" width="1" height="1" fill="#000"/>
<rect x="511" y="134" width="1" height="1" fill="#000"/>
<rect x="519" y="12" width="1" height="1" fill="#000"/>
<rect x="519" y="134" width="1" height="1" fill="#000"/>
<rect x="527" y="12" width="1" height="2" fill="#000"/>
<rect x="527" y="133" width="1" height="2" fill="#000"/>
<rect x="535" y="12" width="1" height="1" fill="#000"/>
<rect x="535" y="134" width="1" height="1" fill="#000"/>
<rect x="543" y="12" width="1" height="1" fill="#000"/>
<rect x="543" y="134" width="1" height="1" fill="#000"/>
<rect x="551" y="12" width="1" height="2" fill="#000"/>
<rect x="551" y="133" width="1" height="2" fill="#000"/>
<rect x="560" y="12" width="1" height="1" fill="#000"/>
<rect x="560" y="134" width="1" height="1" fill="#000"/>
<rect x="568" y="12" width="1" height="1" fill="#000"/>
<rect x="568" y="134" width="1" height="1" fill="#000"/>
<rect x="576" y="12" width="1" height="2" fill="#000"/>
<rect x="576" y="133" width="1" height="2" fill="#000"/>
<rect x="584" y="12" width="1" height="1" fill="#000"/>
<rect x="584" y="134" width="1" height="1" fill="#000"/>
<rect x="592" y="12" width="1" height="1" fill="#000"/>
<rect x="592" y="134" width="1" height="1" fill="#000"/>
<rect x="600" y="12" width="1" height="2" fill="#000"/>
<rect x="600" y="133" width="1" height="2" fill="#000"/>
<rect x="608" y="12" width="1" height="1" fill="#000"/>
<rect x="608" y="134" width="1" height="1" fill="#000"/>
<rect x="616" y="12" width="1" height="1" fill="#000"/>
<rect x="616" y="134" width="1" height="1" fill="#000"/>
<rect x="624" y="12" width="1" height="2" fill="#000"/>
<rect x="624" y="133" width="1" height="2" fill="#000"/>
<text x="469.92" y="145" font-size="7.2" textLength="18.17" lengthAdjust="spacingAndGlyphs">02:30</text>
<text x="493.92" y="145" font-size="7.2" textLength="18.19" lengthAdjust="spacingAndGlyphs">02:45</text>
<text x="517.92" y="145" font-size="7.2" textLength="18.17" lengthAdjust="spacingAndGlyphs">03:00</text>
<text x="541.92" y="145" font-size="7.2" textLength="18.19" lengthAdjust="spacingAndGlyphs">03:15</text>
<text x="566.92" y="145" font-size="7.2" textLength="18.17" lengthAdjust="spacingAndGlyphs">03:30</text>
<text x="590.92" y="145" font-size="7.2" textLength="18.19" lengthAdjust="spacingAndGlyphs">03:45</text>
<text x="614.92" y="145" font-size="7.2" textLength="18.17" lengthAdjust="spacingAndGlyphs">04:00</text>
<text x="489.86" y="153" font-size="8.4" textLength="16.00" lengthAdjust="spacingAndGlyphs">Start</text>
<text x="509.04" y="153" font-size="8.4" textLength="16.08" lengthAdjust="spacingAndGlyphs">Time</text>
<text x="527.67" y="153" font-size="8.4" textLength="42.50" lengthAdjust="spacingAndGlyphs">(27-Nov-16</text>
<text x="573.90" y="153" font-size="8.4" textLength="32.37" lengthAdjust="spacingAndGlyphs">02:22:40)</text>
<text x="472.44" y="8" font-size="8.4" textLength="14.43" lengthAdjust="spacingAndGlyphs">Det</text>
<text x="490.90" y="8" font-size="8.4" textLength="7.03" lengthAdjust="spacingAndGlyphs">3r</text>
<text x="503.57" y="8" font-size="8.4" textLength="25.32" lengthAdjust="spacingAndGlyphs">BLACK</text>
<text x="533.64" y="8" font-size="8.4" textLength="6.73" lengthAdjust="spacingAndGlyphs">=</text>
<text x="544.46" y="8" font-size="8.4" textLength="30.15" lengthAdjust="spacingAndGlyphs">Events,</text>
<text x="577.55" y="8" font-size="8.4" textLength="16.62" lengthAdjust="spacingAndGlyphs">RED</text>
<text x="597.54" y="8" font-size="8.4" textLength="7.93" lengthAdjust="spacingAndGlyphs">=</text>
<text x="608.55" y="8" font-size="8.4" textLength="14.64" lengthAdjust="spacingAndGlyphs">LLD</text>
<text transform="translate(447,94.20) rotate(-90)" font-size="8.4" textLength="39.20" lengthAdjust="spacingAndGlyphs" class="c">Counts/sec</text>
<rect x="468" y="135" width="3" height="1" fill="#000"/>
<rect x="625" y="135" width="3" height="1" fill="#000"/>
<rect x="468" y="123" width="1" height="1" fill="#000"/>
<rect x="626" y="123" width="2" height="1" fill="#000"/>
<rect x="468" y="115" width="1" height="1" fill="#000"/>
<rect x="626" y="115" width="2" height="1" fill="#000"/>
<rect x="468" y="110" width="1" height="1" fill="#000"/>
<rect x="626" y="110" width="2" height="1" fill="#000"/>
<rect x="468" y="106" width="1" height="1" fill="#000"/>
<rect x="626" y="106" width="2" height="1" fill="#000"/>
<rect x="468" y="103" width="1" height="1" fill="#000"/>
<rect x="626" y="103" width="2" height="1" fill="#000"/>
<rect x="468" y="100" width="1" height="1" fill="#000"/>
<rect x="626" y="100" width="2" height="1" fill="#000"/>
<rect x="468" y="98" width="1" height="1" fill="#000"/>
<rect x="626" y="98" width="2" height="1" fill="#000"/>
<rect x="468" y="96" width="1" height="1" fill="#000"/>
<rect x="626" y="96" width="2" height="1" fill="#000"/>
<text x="461.92" y="136" font-size="7.2" textLength="2.06" lengthAdjust="spacingAndGlyphs">1</text>
<rect x="468" y="94" width="3" height="1" fill="#000"/>
<rect x="625" y="94" width="3" height="1" fill="#000"/>
<rect x="468" y="81" width="1" height="1" fill="#000"/>
<rect x="626" y="81" width="2" height="1" fill="#000"/>
<rect x="468" y="74" width="1" height="1" fill="#000"/>
<rect x="626" y="74" width="2" height="1" fill="#000"/>
<rect x="468" y="69" width="1" height="1" fill="#000"/>
<rect x="626" y="69" width="2" height="1" fill="#000"/>
<rect x="468" y="65" width="1" height="1" fill="#000"/>
<rect x="626" y="65" width="2" height="1" fill="#000"/>
<rect x="468" y="62" width="1" height="1" fill="#000"/>
<rect x="626" y="62" width="2" height="1" fill="#000"/>
<rect x="468" y="59" width="1" height="1" fill="#000"/>
<rect x="626" y="59" width="2" height="1" fill="#000"/>
<rect x="468" y="56" width="1" height="1" fill="#000"/>
<rect x="626" y="56" width="2" height="1" fill="#000"/>
<rect x="468" y="54" width="1" height="1" fill="#000"/>
<rect x="626" y="54" width="2" height="1" fill="#000"/>
<text x="456.62" y="97" font-size="7.2" textLength="8.48" lengthAdjust="spacingAndGlyphs">10</text>
<rect x="468" y="52" width="3" height="1" fill="#000"/>
<rect x="625" y="52" width="3" height="1" fill="#000"/>
<rect x="468" y="40" width="1" height="1" fill="#000"/>
<rect x="626" y="40" width="2" height="1" fill="#000"/>
<rect x="468" y="33" width="1" height="1" fill="#000"/>
<rect x="626" y="33" width="2" height="1" fill="#000"/>
<rect x="468" y="27" width="1" height="1" fill="#000"/>
<rect x="626" y="27" width="2" height="1" fill="#000"/>
<rect x="468" y="23" width="1" height="1" fill="#000"/>
<rect x="626" y="23" width="2" height="1" fill="#000"/>
<rect x="468" y="20" width="1" height="1" fill="#000"/>
<rect x="626" y="20" width="2" height="1" fill="#000"/>
<rect x="468" y="17" width="1" height="1" fill="#000"/>
<rect x="626" y="17" width="2" height="1" fill="#000"/>
<rect x="468" y="15" width="1" height="1" fill="#000"/>
<rect x="626" y="15" width="2" height="1" fill="#000"/>
<rect x="468" y="13" width="1" height="1" fill="#000"/>
<rect x="626" y="13" width="2" height="1" fill="#000"/>
<text x="452.63" y="56" font-size="8.4" textLength="12.46" lengthAdjust="spacingAndGlyphs">100</text>
<rect x="468" y="11" width="3" height="1" fill="#000"/>
<rect x="625" y="11" width="3" height="1" fill="#000"/>
<text x="448.64" y="16" font-size="7.2" textLength="16.45" lengthAdjust="spacingAndGlyphs">1000</text>
<rect x="492" y="12" width="1" height="1" fill="#000"/>
<rect x="492" y="16" width="1" height="1" fill="#000"/>
<rect x="492" y="20" width="1" height="1" fill="#000"/>
<rect x="492" y="24" width="1" height="1" fill="#000"/>
<rect x="492" y="28" width="1" height="1" fill="#000"/>
<rect x="492" y="32" width="1" height="1" fill="#000"/>
<rect x="492" y="36" width="1" height="1" fill="#000"/>
<rect x="492" y="40" width="1" height="1" fill="#000"/>
<rect x="492" y="44" width="1" height="1" fill="#000"/>
<rect x="492" y="48" width="1" height="1" fill="#000"/>
<rect x="492" y="52" width="1" height="1" fill="#000"/>
<rect x="492" y="56" width="1" height="1" fill="#000"/>
<rect x="492" y="60" width="1" height="1" fill="#000"/>
<rect x="492" y="64" width="1" height="1" fill="#000"/>
<rect x="492" y="68" width="1" height="1" fill="#000"/>
<rect x="492" y="72" width="1" height="1" fill="#000"/>
<rect x="492" y="76" width="1" height="1" fill="#000"/>
<rect x="492" y="80" width="1" height="1" fill="#000"/>
<rect x="492" y="84" width="1" height="1" fill="#000"/>
<rect x="492" y="88" width="1" height="1" fill="#000"/>
<rect x="492" y="92" width="1" height="1" fill="#000"/>
<rect x="492" y="96" width="1" height="1" fill="#000"/>
<rect x="492" y="100" width="1" height="1" fill="#000"/>
<rect x="492" y="104" width="1" height="1" fill="#000"/>
<rect x="492" y="108" width="1" height="1" fill="#000"/>
<rect x="492" y="112" width="1" height="1" fill="#000"/>
<rect x="492" y="116" width="1" height="1" fill="#000"/>
<rect x="492" y="120" width="1" height="1" fill="#000"/>
<rect x="492" y="124" width="1" height="1" fill="#000"/>
<rect x="492" y="128" width="1" height="1" fill="#000"/>
<rect x="492" y="132" width="1" height="1" fill="#000"/>
<rect x="507" y="16" width="1" height="7" fill="#000"/>
<rect x="507" y="30" width="1" height="7" fill="#000"/>
<rect x="507" y="44" width="1" height="7" fill="#000"/>
<rect x="507" y="58" width="1" height="7" fill="#000"/>
<rect x="507" y="72" width="1" height="7" fill="#000"/>
<rect x="507" y="86" width="1" height="7" fill="#000"/>
<rect x="507" y="100" width="1" height="7" fill="#000"/>
<rect x="507" y="114" width="1" height="7" fill="#000"/>
<rect x="507" y="128" width="1" height="7" fill="#000"/>
<rect x="594" y="13" width="1" height="1" fill="#000"/>
<rect x="594" y="17" width="1" height="1" fill="#000"/>
<rect x="594" y="21" width="1" height="1" fill="#000"/>
<rect x="594" y="25" width="1" height="1" fill="#000"/>
<rect x="594" y="29" width="1" height="1" fill="#000"/>
<rect x="594" y="33" width="1" height="1" fill="#000"/>
<rect x="594" y="37" width="1" height="1" fill="#000"/>
<rect x="594" y="41" width="1" height="1" fill="#000"/>
<rect x="594" y="45" width="1" height="1" fill="#000"/>
<rect x="594" y="49" width="1" height="1" fill="#000"/>
<rect x="594" y="53" width="1" height="1" fill="#000"/>
<rect x="594" y="57" width="1" height="1" fill="#000"/>
<rect x="594" y="61" width="1" height="1" fill="#000"/>
<rect x="594" y="65" width="1" height="1" fill="#000"/>
<rect x="594" y="69" width="1" height="1" fill="#000"/>
<rect x="594" y="73" width="1" height="1" fill="#000"/>
<rect x="594" y="77" width="1" height="1" fill="#000"/>
<rect x="594" y="81" width="1" height="1" fill="#000"/>
<rect x="594" y="85" width="1" height="1" fill="#000"/>
<rect x="594" y="89" width="1" height="1" fill="#000"/>
<rect x="594" y="93" width="1" height="1" fill="#000"/>
<rect x="594" y="97" width="1" height="1" fill="#000"/>
<rect x="594" y="101" width="1" height="1" fill="#000"/>
<rect x="594" y="105" width="1" height="1" fill="#000"/>
<rect x="594" y="109" width="1" height="1" fill="#000"/>
<rect x="594" y="113" width="1" height="1" fill="#000"/>
<rect x="594" y="117" width="1" height="1" fill="#000"/>
<rect x="594" y="121" width="1" height="1" fill="#000"/>
<rect x="594" y="125" width="1" height="1" fill="#000"/>
<rect x="594" y="129" width="1" height="1" fill="#000"/>
<rect x="594" y="133" width="1" height="1" fill="#000"/>
<rect x="619" y="14" width="1" height="9" fill="#000"/>
<rect x="619" y="26" width="1" height="1" fill="#000"/>
<rect x="619" y="28" width="1" height="8" fill="#000"/>
<rect x="619" y="38" width="1" height="1" fill="#000"/>
<rect x="619" y="42" width="1" height="9" fill="#000"/>
<rect x="619" y="54" width="1" height="1" fill="#000"/>
<rect x="619" y="56" width="1" height="8" fill="#000"/>
<rect x="619" y="66" width="1" height="1" fill="#000"/>
<rect x="619" y="70" width="1" height="9" fill="#000"/>
<rect x="619" y="82" width="1" height="1" fill="#000"/>
<rect x="619" y="84" width="1" height="8" fill="#000"/>
<rect x="619" y="94" width="1" height="1" fill="#000"/>
<rect x="619" y="98" width="1" height="9" fill="#000"/>
<rect x="619" y="110" width="1" height="1" fill="#000"/>
<rect x="619" y="112" width="1" height="8" fill="#000"/>
<rect x="619" y="122" width="1" height="1" fill="#000"/>
<rect x="619" y="126" width="1" height="9" fill="#000"/>
<text x="467.18" y="18" font-size="13" textLength="8.27" lengthAdjust="spacingAndGlyphs" class="g">B</text>
<text x="594.20" y="18" font-size="13" textLength="8.12" lengthAdjust="spacingAndGlyphs" class="g">E</text>
<text x="619.60" y="18" font-size="13" textLength="8.81" lengthAdjust="spacingAndGlyphs" class="g">S</text>
<rect x="40" y="171" width="162" height="1" fill="#000"/>
<rect x="40" y="295" width="162" height="1" fill="#000"/>
<rect x="40" y="171" width="1" height="125" fill="#000"/>
<rect x="201" y="171" width="1" height="125" fill="#000"/>
<rect x="44" y="172" width="1" height="1" fill="#000"/>
<rect x="44" y="294" width="1" height="1" fill="#000"/>
<rect x="52" y="172" width="1" height="2" fill="#000"/>
<rect x="52" y="293" width="1" height="2" fill="#000"/>
<rect x="60" y="172" width="1" height="1" fill="#000"/>
<rect x="60" y="294" width="1" height="1" fill="#000"/>
<rect x="68" y="172" width="1" height="1" fill="#000"/>
<rect x="68" y="294" width="1" height="1" fill="#000"/>
<rect x="76" y="172" width="1" height="2" fill="#000"/>
<rect x="76" y="293" width="1" height="2" fill="#000"/>
<rect x="84" y="172" width="1" height="1" fill="#000"/>
<rect x="84" y="294" width="1" height="1" fill="#000"/>
<rect x="92" y="172" width="1" height="1" fill="#000"/>
<rect x="92" y="294" width="1" height="1" fill="#000"/>
<rect x="100" y="172" width="1" height="2" fill="#000"/>
<rect x="100" y="293" width="1" height="2" fill="#000"/>
<rect x="108" y="172" width="1" height="1" fill="#000"/>
<rect x="108" y="294" width="1" height="1" fill="#000"/>
<rect x="116" y="172" width="1" height="1" fill="#000"/>
<rect x="116" y="294" width="1" height="1" fill="#000"/>
<rect x="124" y="172" width="1" height="2" fill="#000"/>
<rect x="124" y="293" width="1" height="2" fill="#000"/>
<rect x="133" y="172" width="1" height="1" fill="#000"/>
<rect x="133" y="294" width="1" height="1" fill="#000"/>
<rect x="141" y="172" width="1" height="1" fill="#000"/>
<rect x="141" y="294" width="1" height="1" fill="#000"/>
<rect x="149" y="172" width="1" height="2" fill="#000"/>
<rect x="149" y="293" width="1" height="2" fill="#000"/>
<rect x="157" y="172" width="1" height="1" fill="#000"/>
<rect x="157" y="294" width="1" height="1" fill="#000"/>
<rect x="165" y="172" width="1" height="1" fill="#000"/>
<rect x="165" y="294" width="1" height="1" fill="#000"/>
<rect x="173" y="172" width="1" height="2" fill="#000"/>
<rect x="173" y="293" width="1" height="2" fill="#000"/>
<rect x="181" y="172" width="1" height="1" fill="#000"/>
<rect x="181" y="294" width="1" height="1" fill="#000"/>
<rect x="189" y="172" width="1" height="1" fill="#000"/>
<rect x="189" y="294" width="1" height="1" fill="#000"/>
<rect x="197" y="172" width="1" height="2" fill="#000"/>
<rect x="197" y="293" width="1" height="2" fill="#000"/>
<text x="42.92" y="305" font-size="7.2" textLength="18.17" lengthAdjust="spacingAndGlyphs">02:30</text>
<text x="66.92" y="305" font-size="7.2" textLength="18.19" lengthAdjust="spacingAndGlyphs">02:45</text>
<text x="90.92" y="305" font-size="7.2" textLength="18.17" lengthAdjust="spacingAndGlyphs">03:00</text>
<text x="114.92" y="305" font-size="7.2" textLength="18.19" lengthAdjust="spacingAndGlyphs">03:15</text>
<text x="139.92" y="305" font-size="7.2" textLength="18.17" lengthAdjust="spacingAndGlyphs">03:30</text>
<text x="163.92" y="305" font-size="7.2" textLength="18.19" lengthAdjust="spacingAndGlyphs">03:45</text>
<text x="187.92" y="305" font-size="7.2" textLength="18.17" lengthAdjust="spacingAndGlyphs">04:00</text>
<text x="62.86" y="313" font-size="8.4" textLength="16.00" lengthAdjust="spacingAndGlyphs">Start</text>
<text x="82.04" y="313" font-size="8.4" textLength="16.08" lengthAdjust="spacingAndGlyphs">Time</text>
<text x="100.67" y="313" font-size="8.4" textLength="42.50" lengthAdjust="spacingAndGlyphs">(27-Nov-16</text>
<text x="146.90" y="313" font-size="8.4" textLength="32.37" lengthAdjust="spacingAndGlyphs">02:22:40)</text>
<text x="45.44" y="168" font-size="8.4" textLength="14.43" lengthAdjust="spacingAndGlyphs">Det</text>
<text x="64.02" y="168" font-size="8.4" textLength="6.91" lengthAdjust="spacingAndGlyphs">4r</text>
<text x="76.57" y="168" font-size="8.4" textLength="25.32" lengthAdjust="spacingAndGlyphs">BLACK</text>
<text x="106.64" y="168" font-size="8.4" textLength="6.73" lengthAdjust="spacingAndGlyphs">=</text>
<text x="117.46" y="168" font-size="8.4" textLength="30.15" lengthAdjust="spacingAndGlyphs">Events,</text>
<text x="150.55" y="168" font-size="8.4" textLength="16.62" lengthAdjust="spacingAndGlyphs">RED</text>
<text x="170.54" y="168" font-size="8.4" textLength="7.93" lengthAdjust="spacingAndGlyphs">=</text>
<text x="181.55" y="168" font-size="8.4" textLength="14.64" lengthAdjust="spacingAndGlyphs">LLD</text>
<text transform="translate(20,254.20) rotate(-90)" font-size="8.4" textLength="39.20" lengthAdjust="spacingAndGlyphs" class="c">Counts/sec</text>
<rect x="41" y="171" width="3" height="1" fill="#000"/>
<rect x="198" y="171" width="3" height="1" fill="#000"/>
<rect x="41" y="177" width="2" height="1" fill="#000"/>
<rect x="200" y="177" width="1" height="1" fill="#000"/>
<rect x="41" y="181" width="2" height="1" fill="#000"/>
<rect x="200" y="181" width="1" height="1" fill="#000"/>
<rect x="41" y="183" width="2" height="1" fill="#000"/>
<rect x="200" y="183" width="1" height="1" fill="#000"/>
<rect x="41" y="185" width="2" height="1" fill="#000"/>
<rect x="200" y="185" width="1" height="1" fill="#000"/>
<rect x="41" y="187" width="2" height="1" fill="#000"/>
<rect x="200" y="187" width="1" height="1" fill="#000"/>
<rect x="41" y="188" width="2" height="1" fill="#000"/>
<rect x="200" y="188" width="1" height="1" fill="#000"/>
<rect x="41" y="190" width="2" height="1" fill="#000"/>
<rect x="200" y="190" width="1" height="1" fill="#000"/>
<rect x="41" y="191" width="2" height="1" fill="#000"/>
<rect x="200" y="191" width="1" height="1" fill="#000"/>
<text x="24.70" y="176" font-size="7.2" textLength="7.36" lengthAdjust="spacingAndGlyphs">10</text>
<text x="31.89" y="173" font-size="6" textLength="6.22" lengthAdjust="spacingAndGlyphs" class="x">-6</text>
<rect x="41" y="192" width="3" height="1" fill="#000"/>
<rect x="198" y="192" width="3" height="1" fill="#000"/>
<rect x="41" y="198" width="2" height="1" fill="#000"/>
<rect x="200" y="198" width="1" height="1" fill="#000"/>
<rect x="41" y="202" width="2" height="1" fill="#000"/>
<rect x="200" y="202" width="1" height="1" fill="#000"/>
<rect x="41" y="204" width="2" height="1" fill="#000"/>
<rect x="200" y="204" width="1" height="1" fill="#000"/>
<rect x="41" y="206" width="2" height="1" fill="#000"/>
<rect x="200" y="206" width="1" height="1" fill="#000"/>
<rect x="41" y="208" width="2" height="1" fill="#000"/>
<rect x="200" y="208" width="1" height="1" fill="#000"/>
<rect x="41" y="209" width="2" height="1" fill="#000"/>
<rect x="200" y="209" width="1" height="1" fill="#000"/>
<rect x="41" y="210" width="2" height="1" fill="#000"/>
<rect x="200" y="210" width="1" height="1" fill="#000"/>
<rect x="41" y="211" width="2" height="1" fill="#000"/>
<rect x="200" y="211" width="1" height="1" fill="#000"/>
<text x="24.70" y="196" font-size="8.4" textLength="7.36" lengthAdjust="spacingAndGlyphs">10</text>
<text x="31.89" y="193" font-size="6" textLength="6.20" lengthAdjust="spacingAndGlyphs" class="x">-5</text>
<rect x="41" y="212" width="3" height="1" fill="#000"/>
<rect x="198" y="212" width="3" height="1" fill="#000"/>
<rect x="41" y="219" width="2" height="1" fill="#000"/>
<rect x="200" y="219" width="1" height="1" fill="#000"/>
<rect x="41" y="222" width="2" height="1" fill="#000"/>
<rect x="200" y="222" width="1" height="1" fill="#000"/>
<rect x="41" y="225" width="2" height="1" fill="#000"/>
<rect x="200" y="225" width="1" height="1" fill="#000"/>
<rect x="41" y="227" width="2" height="1" fill="#000"/>
<rect x="200" y="227" width="1" height="1" fill="#000"/>
<rect x="41" y="228" width="2" height="1" fill="#000"/>
<rect x="200" y="228" width="1" height="1" fill="#000"/>
<rect x="41" y="230" width="2" height="1" fill="#000"/>
<rect x="200" y="230" width="1" height="1" fill="#000"/>
<rect x="41" y="231" width="2" height="1" fill="#000"/>
<rect x="200" y="231" width="1" height="1" fill="#000"/>
<rect x="41" y="232" width="2" height="1" fill="#000"/>
<rect x="200" y="232" width="1" height="1" fill="#000"/>
<text x="24.70" y="216" font-size="8.4" textLength="7.36" lengthAdjust="spacingAndGlyphs">10</text>
<text x="31.89" y="213" font-size="6" textLength="6.11" lengthAdjust="spacingAndGlyphs" class="x">-4</text>
<rect x="41" y="233" width="3" height="1" fill="#000"/>
<rect x="198" y="233" width="3" height="1" fill="#000"/>
<rect x="41" y="239" width="2" height="1" fill="#000"/>
<rect x="200" y="239" width="1" height="1" fill="#000"/>
<rect x="41" y="243" width="2" height="1" fill="#000"/>
<rect x="200" y="243" width="1" height="1" fill="#000"/>
<rect x="41" y="245" width="2" height="1" fill="#000"/>
<rect x="200" y="245" width="1" height="1" fill="#000"/>
<rect x="41" y="247" width="2" height="1" fill="#000"/>
<rect x="200" y="247" width="1" height="1" fill="#000"/>
<rect x="41" y="249" width="2" height="1" fill="#000"/>
<rect x="200" y="249" width="1" height="1" fill="#000"/>
<rect x="41" y="250" width="2" height="1" fill="#000"/>
<rect x="200" y="250" width="1" height="1" fill="#000"/>
<rect x="41" y="252" width="2" height="1" fill="#000"/>
<rect x="200" y="252" width="1" height="1" fill="#000"/>
<rect x="41" y="253" width="2" height="1" fill="#000"/>
<rect x="200" y="253" width="1" height="1" fill="#000"/>
<text x="24.70" y="237" font-size="8.4" textLength="7.36" lengthAdjust="spacingAndGlyphs">10</text>
<text x="31.89" y="234" font-size="6" textLength="6.22" lengthAdjust="spacingAndGlyphs" class="x">-3</text>
<rect x="41" y="254" width="3" height="1" fill="#000"/>
<rect x="198" y="254" width="3" height="1" fill="#000"/>
<rect x="41" y="260" width="2" height="1" fill="#000"/>
<rect x="200" y="260" width="1" height="1" fill="#000"/>
<rect x="41" y="264" width="2" height="1" fill="#000"/>
<rect x="200" y="264" width="1" height="1" fill="#000"/>
<rect x="41" y="266" width="2" height="1" fill="#000"/>
<rect x="200" y="266" width="1" height="1" fill="#000"/>
<rect x="41" y="268" width="2" height="1" fill="#000"/>
<rect x="200" y="268" width="1" height="1" fill="#000"/>
<rect x="41" y="270" width="2" height="1" fill="#000"/>
<rect x="200" y="270" width="1" height="1" fill="#000"/>
<rect x="41" y="271" width="2" height="1" fill="#000"/>
<rect x="200" y="271" width="1" height="1" fill="#000"/>
<rect x="41" y="272" width="2" height="1" fill="#000"/>
<rect x="200" y="272" width="1" height="1" fill="#000"/>
<rect x="41" y="273" width="2" height="1" fill="#000"/>
<rect x="200" y="273" width="1" height="1" fill="#000"/>
<text x="24.70" y="258" font-size="8.4" textLength="7.36" lengthAdjust="spacingAndGlyphs">10</text>
<text x="31.89" y="255" font-size="6" textLength="6.27" lengthAdjust="spacingAndGlyphs" class="x">-2</text>
<rect x="41" y="274" width="3" height="1" fill="#000"/>
<rect x="198" y="274" width="3" height="1" fill="#000"/>
<rect x="41" y="281" width="2" height="1" fill="#000"/>
<rect x="200" y="281" width="1" height="1" fill="#000"/>
<rect x="41" y="284" width="2" height="1" fill="#000"/>
<rect x="200" y="284" width="1" height="1" fill="#000"/>
<rect x="41" y="287" width="2" height="1" fill="#000"/>
<rect x="200" y="287" width="1" height="1" fill="#000"/>
<rect x="41" y="289" width="2" height="1" fill="#000"/>
<rect x="200" y="289" width="1" height="1" fill="#000"/>
<rect x="41" y="290" width="2" height="1" fill="#000"/>
<rect x="200" y="290" width="1" height="1" fill="#000"/>
<rect x="41" y="292" width="2" height="1" fill="#000"/>
<rect x="200" y="292" width="1" height="1" fill="#000"/>
<rect x="41" y="293" width="2" height="1" fill="#000"/>
<rect x="200" y="293" width="1" height="1" fill="#000"/>
<rect x="41" y="294" width="2" height="1" fill="#000"/>
<rect x="200" y="294" width="1" height="1" fill="#000"/>
<text x="24.70" y="278" font-size="8.4" textLength="7.36" lengthAdjust="spacingAndGlyphs">10</text>
<text x="31.89" y="275" font-size="6" textLength="6.26" lengthAdjust="spacingAndGlyphs" class="x">-1</text>
<rect x="41" y="295" width="3" height="1" fill="#000"/>
<rect x="198" y="295" width="3" height="1" fill="#000"/>
<text x="27.70" y="296" font-size="8.4" textLength="7.36" lengthAdjust="spacingAndGlyphs">10</text>
<text x="34.99" y="293" font-size="6" textLength="3.02" lengthAdjust="spacingAndGlyphs" class="x">0</text>
<rect x="65" y="172" width="1" height="1" fill="#000"/>
<rect x="65" y="176" width="1" height="1" fill="#000"/>
<rect x="65" y="180" width="1" height="1" fill="#000"/>
<rect x="65" y="184" width="1" height="1" fill="#000"/>
<rect x="65" y="188" width="1" height="1" fill="#000"/>
<rect x="65" y="192" width="1" height="1" fill="#000"/>
<rect x="65" y="196" width="1" height="1" fill="#000"/>
<rect x="65" y="200" width="1" height="1" fill="#000"/>
<rect x="65" y="204" width="1" height="1" fill="#000"/>
<rect x="65" y="208" width="1" height="1" fill="#000"/>
<rect x="65" y="212" width="1" height="1" fill="#000"/>
<rect x="65" y="216" width="1" height="1" fill="#000"/>
<rect x="65" y="220" width="1" height="1" fill="#000"/>
<rect x="65" y="224" width="1" height="1" fill="#000"/>
<rect x="65" y="228" width="1" height="1" fill="#000"/>
<rect x="65" y="232" width="1" height="1" fill="#000"/>
<rect x="65" y="236" width="1" height="1" fill="#000"/>
<rect x="65" y="240" width="1" height="1" fill="#000"/>
<rect x="65" y="244" width="1" height="1" fill="#000"/>
<rect x="65" y="248" width="1" height="1" fill="#000"/>
<rect x="65" y="252" width="1" height="1" fill="#000"/>
<rect x="65" y="256" width="1" height="1" fill="#000"/>
<rect x="65" y="260" width="1" height="1" fill="#000"/>
<rect x="65" y="264" width="1" height="1" fill="#000"/>
<rect x="65" y="268" width="1" height="1" fill="#000"/>
<rect x="65" y="272" width="1" height="1" fill="#000"/>
<rect x="65" y="276" width="1" height="1" fill="#000"/>
<rect x="65" y="280" width="1" height="1" fill="#000"/>
<rect x="65" y="284" width="1" height="1" fill="#000"/>
<rect x="65" y="288" width="1" height="1" fill="#000"/>
<rect x="65" y="292" width="1" height="1" fill="#000"/>
<rect x="80" y="172" width="1" height="7" fill="#000"/>
<rect x="80" y="186" width="1" height="7" fill="#000"/>
<rect x="80" y="200" width="1" height="7" fill="#000"/>
<rect x="80" y="214" width="1" height="7" fill="#000"/>
<rect x="80" y="228" width="1" height="7" fill="#000"/>
<rect x="80" y="242" width="1" height="7" fill="#000"/>
<rect x="80" y="256" width="1" height="7" fill="#000"/>
<rect x="80" y="270" width="1" height="7" fill="#000"/>
<rect x="80" y="284" width="1" height="7" fill="#000"/>
<rect x="167" y="173" width="1" height="1" fill="#000"/>
<rect x="167" y="177" width="1" height="1" fill="#000"/>
<rect x="167" y="181" width="1" height="1" fill="#000"/>
<rect x="167" y="185" width="1" height="1" fill="#000"/>
<rect x="167" y="189" width="1" height="1" fill="#000"/>
<rect x="167" y="193" width="1" height="1" fill="#000"/>
<rect x="167" y="197" width="1" height="1" fill="#000"/>
<rect x="167" y="201" width="1" height="1" fill="#000"/>
<rect x="167" y="205" width="1" height="1" fill="#000"/>
<rect x="167" y="209" width="1" height="1" fill="#000"/>
<rect x="167" y="213" width="1" height="1" fill="#000"/>
<rect x="167" y="217" width="1" height="1" fill="#000"/>
<rect x="167" y="221" width="1" height="1" fill="#000"/>
<rect x="167" y="225" width="1" height="1" fill="#000"/>
<rect x="167" y="229" width="1" height="1" fill="#000"/>
<rect x="167" y="233" width="1" height="1" fill="#000"/>
<rect x="167" y="237" width="1" height="1" fill="#000"/>
<rect x="167" y="241" width="1" height="1" fill="#000"/>
<rect x="167" y="245" width="1" height="1" fill="#000"/>
<rect x="167" y="249" width="1" height="1" fill="#000"/>
<rect x="167" y="253" width="1" height="1" fill="#000"/>
<rect x="167" y="257" width="1" height="1" fill="#000"/>
<rect x="167" y="261" width="1" height="1" fill="#000"/>
<rect x="167" y="265" width="1" height="1" fill="#000"/>
<rect x="167" y="269" width="1" height="1" fill="#000"/>
<rect x="167" y="273" width="1" height="1" fill="#000"/>
<rect x="167" y="277" width="1" height="1" fill="#000"/>
<rect x="167" y="281" width="1" height="1" fill="#000"/>
<rect x="167" y="285" width="1" height="1" fill="#000"/>
<rect x="167" y="289" width="1" height="1" fill="#000"/>
<rect x="167" y="293" width="1" height="1" fill="#000"/>
<rect x="192" y="172" width="1" height="7" fill="#000"/>
<rect x="192" y="182" width="1" height="1" fill="#000"/>
<rect x="192" y="184" width="1" height="8" fill="#000"/>
<rect x="192" y="194" width="1" height="1" fill="#000"/>
<rect x="192" y="198" width="1" height="9" fill="#000"/>
<rect x="192" y="210" width="1" height="1" fill="#000"/>
<rect x="192" y="212" width="1" height="8" fill="#000"/>
<rect x="192" y="222" width="1" height="1" fill="#000"/>
<rect x="192" y="226" width="1" height="9" fill="#000"/>
<rect x="192" y="238" width="1" height="1" fill="#000"/>
<rect x="192" y="240" width="1" height="8" fill="#000"/>
<rect x="192" y="250" width="1" height="1" fill="#000"/>
<rect x="192" y="254" width="1" height="9" fill="#000"/>
<rect x="192" y="266" width="1" height="1" fill="#000"/>
<rect x="192" y="268" width="1" height="8" fill="#000"/>
<rect x="192" y="278" width="1" height="1" fill="#000"/>
<rect x="192" y="282" width="1" height="9" fill="#000"/>
<rect x="192" y="294" width="1" height="1" fill="#000"/>
<text x="40.18" y="285" font-size="14" textLength="8.27" lengthAdjust="spacingAndGlyphs" class="g">B</text>
<text x="168.35" y="285" font-size="14" textLength="6.89" lengthAdjust="spacingAndGlyphs" class="g">E</text>
<text x="191.60" y="285" font-size="14" textLength="8.81" lengthAdjust="spacingAndGlyphs" class="g">S</text>
<rect x="253" y="171" width="163" height="1" fill="#000"/>
<rect x="253" y="295" width="163" height="1" fill="#000"/>
<rect x="253" y="171" width="1" height="125" fill="#000"/>
<rect x="415" y="171" width="1" height="125" fill="#000"/>
<rect x="257" y="172" width="1" height="1" fill="#000"/>
<rect x="257" y="294" width="1" height="1" fill="#000"/>
<rect x="265" y="172" width="1" height="2" fill="#000"/>
<rect x="265" y="293" width="1" height="2" fill="#000"/>
<rect x="273" y="172" width="1" height="1" fill="#000"/>
<rect x="273" y="294" width="1" height="1" fill="#000"/>
<rect x="281" y="172" width="1" height="1" fill="#000"/>
<rect x="281" y="294" width="1" height="1" fill="#000"/>
<rect x="289" y="172" width="1" height="2" fill="#000"/>
<rect x="289" y="293" width="1" height="2" fill="#000"/>
<rect x="297" y="172" width="1" height="1" fill="#000"/>
<rect x="297" y="294" width="1" height="1" fill="#000"/>
<rect x="305" y="172" width="1" height="1" fill="#000"/>
<rect x="305" y="294" width="1" height="1" fill="#000"/>
<rect x="313" y="172" width="1" height="2" fill="#000"/>
<rect x="313" y="293" width="1" height="2" fill="#000"/>
<rect x="321" y="172" width="1" height="1" fill="#000"/>
<rect x="321" y="294" width="1" height="1" fill="#000"/>
<rect x="329" y="172" width="1" height="1" fill="#000"/>
<rect x="329" y="294" width="1" height="1" fill="#000"/>
<rect x="337" y="172" width="1" height="2" fill="#000"/>
<rect x="337" y="293" width="1" height="2" fill="#000"/>
<rect x="346" y="172" width="1" height="1" fill="#000"/>
<rect x="346" y="294" width="1" height="1" fill="#000"/>
<rect x="354" y="172" width="1" height="1" fill="#000"/>
<rect x="354" y="294" width="1" height="1" fill="#000"/>
<rect x="362" y="172" width="1" height="2" fill="#000"/>
<rect x="362" y="293" width="1" height="2" fill="#000"/>
<rect x="370" y="172" width="1" height="1" fill="#000"/>
<rect x="370" y="294" width="1" height="1" fill="#000"/>
<rect x="378" y="172" width="1" height="1" fill="#000"/>
<rect x="378" y="294" width="1" height="1" fill="#000"/>
<rect x="386" y="172" width="1" height="2" fill="#000"/>
<rect x="386" y="293" width="1" height="2" fill="#000"/>
<rect x="394" y="172" width="1" height="1" fill="#000"/>
<rect x="394" y="294" width="1" height="1" fill="#000"/>
<rect x="402" y="172" width="1" height="1" fill="#000"/>
<rect x="402" y="294" width="1" height="1" fill="#000"/>
<rect x="410" y="172" width="1" height="2" fill="#000"/>
<rect x="410" y="293" width="1" height="2" fill="#000"/>
<text x="255.92" y="305" font-size="7.2" textLength="18.17" lengthAdjust="spacingAndGlyphs">02:30</text>
<text x="279.92" y="305" font-size="7.2" textLength="18.19" lengthAdjust="spacingAndGlyphs">02:45</text>
<text x="303.92" y="305" font-size="7.2" textLength="18.17" lengthAdjust="spacingAndGlyphs">03:00</text>
<text x="327.92" y="305" font-size="7.2" textLength="18.19" lengthAdjust="spacingAndGlyphs">03:15</text>
<text x="352.92" y="305" font-size="7.2" textLength="18.17" lengthAdjust="spacingAndGlyphs">03:30</text>
<text x="376.92" y="305" font-size="7.2" textLength="18.19" lengthAdjust="spacingAndGlyphs">03:45</text>
<text x="400.92" y="305" font-size="7.2" textLength="18.17" lengthAdjust="spacingAndGlyphs">04:00</text>
<text x="275.86" y="313" font-size="8.4" textLength="16.00" lengthAdjust="spacingAndGlyphs">Start</text>
<text x="295.04" y="313" font-size="8.4" textLength="16.08" lengthAdjust="spacingAndGlyphs">Time</text>
<text x="313.67" y="313" font-size="8.4" textLength="42.50" lengthAdjust="spacingAndGlyphs">(27-Nov-16</text>
<text x="359.90" y="313" font-size="8.4" textLength="32.37" lengthAdjust="spacingAndGlyphs">02:22:40)</text>
<text x="258.44" y="168" font-size="8.4" textLength="14.43" lengthAdjust="spacingAndGlyphs">Det</text>
<text x="276.88" y="168" font-size="8.4" textLength="7.05" lengthAdjust="spacingAndGlyphs">5r</text>
<text x="289.57" y="168" font-size="8.4" textLength="25.32" lengthAdjust="spacingAndGlyphs">BLACK</text>
<text x="319.64" y="168" font-size="8.4" textLength="6.73" lengthAdjust="spacingAndGlyphs">=</text>
<text x="330.46" y="168" font-size="8.4" textLength="30.15" lengthAdjust="spacingAndGlyphs">Events,</text>
<text x="363.55" y="168" font-size="8.4" textLength="16.62" lengthAdjust="spacingAndGlyphs">RED</text>
<text x="383.54" y="168" font-size="8.4" textLength="7.93" lengthAdjust="spacingAndGlyphs">=</text>
<text x="394.55" y="168" font-size="8.4" textLength="14.64" lengthAdjust="spacingAndGlyphs">LLD</text>
<text transform="translate(233,254.20) rotate(-90)" font-size="8.4" textLength="39.20" lengthAdjust="spacingAndGlyphs" class="c">Counts/sec</text>
<rect x="254" y="171" width="4" height="1" fill="#000"/>
<rect x="411" y="171" width="4" height="1" fill="#000"/>
<rect x="254" y="177" width="2" height="1" fill="#000"/>
<rect x="413" y="177" width="2" height="1" fill="#000"/>
<rect x="254" y="181" width="2" height="1" fill="#000"/>
<rect x="413" y="181" width="2" height="1" fill="#000"/>
<rect x="254" y="183" width="2" height="1" fill="#000"/>
<rect x="413" y="183" width="2" height="1" fill="#000"/>
<rect x="254" y="185" width="2" height="1" fill="#000"/>
<rect x="413" y="185" width="2" height="1" fill="#000"/>
<rect x="254" y="187" width="2" height="1" fill="#000"/>
<rect x="413" y="187" width="2" height="1" fill="#000"/>
<rect x="254" y="188" width="2" height="1" fill="#000"/>
<rect x="413" y="188" width="2" height="1" fill="#000"/>
<rect x="254" y="190" width="2" height="1" fill="#000"/>
<rect x="413" y="190" width="2" height="1" fill="#000"/>
<rect x="254" y="191" width="2" height="1" fill="#000"/>
<rect x="413" y="191" width="2" height="1" fill="#000"/>
<text x="237.70" y="176" font-size="7.2" textLength="7.36" lengthAdjust="spacingAndGlyphs">10</text>
<text x="244.89" y="173" font-size="6" textLength="6.22" lengthAdjust="spacingAndGlyphs" class="x">-6</text>
<rect x="254" y="192" width="4" height="1" fill="#000"/>
<rect x="411" y="192" width="4" height="1" fill="#000"/>
<rect x="254" y="198" width="2" height="1" fill="#000"/>
<rect x="413" y="198" width="2" height="1" fill="#000"/>
<rect x="254" y="202" width="2" height="1" fill="#000"/>
<rect x="413" y="202" width="2" height="1" fill="#000"/>
<rect x="254" y="204" width="2" height="1" fill="#000"/>
<rect x="413" y="204" width="2" height="1" fill="#000"/>
<rect x="254" y="206" width="2" height="1" fill="#000"/>
<rect x="413" y="206" width="2" height="1" fill="#000"/>
<rect x="254" y="208" width="2" height="1" fill="#000"/>
<rect x="413" y="208" width="2" height="1" fill="#000"/>
<rect x="254" y="209" width="2" height="1" fill="#000"/>
<rect x="413" y="209" width="2" height="1" fill="#000"/>
<rect x="254" y="210" width="2" height="1" fill="#000"/>
<rect x="413" y="210" width="2" height="1" fill="#000"/>
<rect x="254" y="211" width="2" height="1" fill="#000"/>
<rect x="413" y="211" width="2" height="1" fill="#000"/>
<text x="237.70" y="196" font-size="8.4" textLength="7.36" lengthAdjust="spacingAndGlyphs">10</text>
<text x="244.89" y="193" font-size="6" textLength="6.20" lengthAdjust="spacingAndGlyphs" class="x">-5</text>
<rect x="254" y="212" width="4" height="1" fill="#000"/>
<rect x="411" y="212" width="4" height="1" fill="#000"/>
<rect x="254" y="219" width="2" height="1" fill="#000"/>
<rect x="413" y="219" width="2" height="1" fill="#000"/>
<rect x="254" y="222" width="2" height="1" fill="#000"/>
<rect x="413" y="222" width="2" height="1" fill="#000"/>
<rect x="254" y="225" width="2" height="1" fill="#000"/>
<rect x="413" y="225" width="2" height="1" fill="#000"/>
<rect x="254" y="227" width="2" height="1" fill="#000"/>
<rect x="413" y="227" width="2" height="1" fill="#000"/>
<rect x="254" y="228" width="2" height="1" fill="#000"/>
<rect x="413" y="228" width="2" height="1" fill="#000"/>
<rect x="254" y="230" width="2" height="1" fill="#000"/>
<rect x="413" y="230" width="2" height="1" fill="#000"/>
<rect x="254" y="231" width="2" height="1" fill="#000"/>
<rect x="413" y="231" width="2" height="1" fill="#000"/>
<rect x="254" y="232" width="2" height="1" fill="#000"/>
<rect x="413" y="232" width="2" height="1" fill="#000"/>
<text x="237.70" y="216" font-size="8.4" textLength="7.36" lengthAdjust="spacingAndGlyphs">10</text>
<text x="244.89" y="213" font-size="6" textLength="6.11" lengthAdjust="spacingAndGlyphs" class="x">-4</text>
<rect x="254" y="233" width="4" height="1" fill="#000"/>
<rect x="411" y="233" width="4" height="1" fill="#000"/>
<rect x="254" y="239" width="2" height="1" fill="#000"/>
<rect x="413" y="239" width="2" height="1" fill="#000"/>
<rect x="254" y="243" width="2" height="1" fill="#000"/>
<rect x="413" y="243" width="2" height="1" fill="#000"/>
<rect x="254" y="245" width="2" height="1" fill="#000"/>
<rect x="413" y="245" width="2" height="1" fill="#000"/>
<rect x="254" y="247" width="2" height="1" fill="#000"/>
<rect x="413" y="247" width="2" height="1" fill="#000"/>
<rect x="254" y="249" width="2" height="1" fill="#000"/>
<rect x="413" y="249" width="2" height="1" fill="#000"/>
<rect x="254" y="250" width="2" height="1" fill="#000"/>
<rect x="413" y="250" width="2" height="1" fill="#000"/>
<rect x="254" y="252" width="2" height="1" fill="#000"/>
<rect x="413" y="252" width="2" height="1" fill="#000"/>
<rect x="254" y="253" width="2" height="1" fill="#000"/>
<rect x="413" y="253" width="2" height="1" fill="#000"/>
<text x="237.70" y="237" font-size="8.4" textLength="7.36" lengthAdjust="spacingAndGlyphs">10</text>
<text x="244.89" y="234" font-size="6" textLength="6.22" lengthAdjust="spacingAndGlyphs" class="x">-3</text>
<rect x="254" y="254" width="4" height="1" fill="#000"/>
<rect x="411" y="254" width="4" height="1" fill="#000"/>
<rect x="254" y="260" width="2" height="1" fill="#000"/>
<rect x="413" y="260" width="2" height="1" fill="#000"/>
<rect x="254" y="264" width="2" height="1" fill="#000"/>
<rect x="413" y="264" width="2" height="1" fill="#000"/>
<rect x="254" y="266" width="2" height="1" fill="#000"/>
<rect x="413" y="266" width="2" height="1" fill="#000"/>
<rect x="254" y="268" width="2" height="1" fill="#000"/>
<rect x="413" y="268" width="2" height="1" fill="#000"/>
<rect x="254" y="270" width="2" height="1" fill="#000"/>
<rect x="413" y="270" width="2" height="1" fill="#000"/>
<rect x="254" y="271" width="2" height="1" fill="#000"/>
<rect x="413" y="271" width="2" height="1" fill="#000"/>
<rect x="254" y="272" width="2" height="1" fill="#000"/>
<rect x="413" y="272" width="2" height="1" fill="#000"/>
<rect x="254" y="273" width="2" height="1" fill="#000"/>
<rect x="413" y="273" width="2" height="1" fill="#000"/>
<text x="237.70" y="258" font-size="8.4" textLength="7.36" lengthAdjust="spacingAndGlyphs">10</text>
<text x="244.89" y="255" font-size="6" textLength="6.27" lengthAdjust="spacingAndGlyphs" class="x">-2</text>
<rect x="254" y="274" width="4" height="1" fill="#000"/>
<rect x="411" y="274" width="4" height="1" fill="#000"/>
<rect x="254" y="281" width="2" height="1" fill="#000"/>
<rect x="413" y="281" width="2" height="1" fill="#000"/>
<rect x="254" y="284" width="2" height="1" fill="#000"/>
<rect x="413" y="284" width="2" height="1" fill="#000"/>
<rect x="254" y="287" width="2" height="1" fill="#000"/>
<rect x="413" y="287" width="2" height="1" fill="#000"/>
<rect x="254" y="289" width="2" height="1" fill="#000"/>
<rect x="413" y="289" width="2" height="1" fill="#000"/>
<rect x="254" y="290" width="2" height="1" fill="#000"/>
<rect x="413" y="290" width="2" height="1" fill="#000"/>
<rect x="254" y="292" width="2" height="1" fill="#000"/>
<rect x="413" y="292" width="2" height="1" fill="#000"/>
<rect x="254" y="293" width="2" height="1" fill="#000"/>
<rect x="413" y="293" width="2" height="1" fill="#000"/>
<rect x="254" y="294" width="2" height="1" fill="#000"/>
<rect x="413" y="294" width="2" height="1" fill="#000"/>
<text x="237.70" y="278" font-size="8.4" textLength="7.36" lengthAdjust="spacingAndGlyphs">10</text>
<text x="244.89" y="275" font-size="6" textLength="6.26" lengthAdjust="spacingAndGlyphs" class="x">-1</text>
<rect x="254" y="295" width="4" height="1" fill="#000"/>
<rect x="411" y="295" width="4" height="1" fill="#000"/>
<text x="240.70" y="296" font-size="8.4" textLength="7.36" lengthAdjust="spacingAndGlyphs">10</text>
<text x="247.99" y="293" font-size="6" textLength="3.02" lengthAdjust="spacingAndGlyphs" class="x">0</text>
<rect x="279" y="172" width="1" height="1" fill="#000"/>
<rect x="279" y="176" width="1" height="1" fill="#000"/>
<rect x="279" y="180" width="1" height="1" fill="#000"/>
<rect x="279" y="184" width="1" height="1" fill="#000"/>
<rect x="279" y="188" width="1" height="1" fill="#000"/>
<rect x="279" y="192" width="1" height="1" fill="#000"/>
<rect x="279" y="196" width="1" height="1" fill="#000"/>
<rect x="279" y="200" width="1" height="1" fill="#000"/>
<rect x="279" y="204" width="1" height="1" fill="#000"/>
<rect x="279" y="208" width="1" height="1" fill="#000"/>
<rect x="279" y="212" width="1" height="1" fill="#000"/>
<rect x="279" y="216" width="1" height="1" fill="#000"/>
<rect x="279" y="220" width="1" height="1" fill="#000"/>
<rect x="279" y="224" width="1" height="1" fill="#000"/>
<rect x="279" y="228" width="1" height="1" fill="#000"/>
<rect x="279" y="232" width="1" height="1" fill="#000"/>
<rect x="279" y="236" width="1" height="1" fill="#000"/>
<rect x="279" y="240" width="1" height="1" fill="#000"/>
<rect x="279" y="244" width="1" height="1" fill="#000"/>
<rect x="279" y="248" width="1" height="1" fill="#000"/>
<rect x="279" y="252" width="1" height="1" fill="#000"/>
<rect x="279" y="256" width="1" height="1" fill="#000"/>
<rect x="279" y="260" width="1" height="1" fill="#000"/>
<rect x="279" y="264" width="1" height="1" fill="#000"/>
<rect x="279" y="268" width="1" height="1" fill="#000"/>
<rect x="279" y="272" width="1" height="1" fill="#000"/>
<rect x="279" y="276" width="1" height="1" fill="#000"/>
<rect x="279" y="280" width="1" height="1" fill="#000"/>
<rect x="279" y="284" width="1" height="1" fill="#000"/>
<rect x="279" y="288" width="1" height="1" fill="#000"/>
<rect x="279" y="292" width="1" height="1" fill="#000"/>
<rect x="294" y="172" width="1" height="3" fill="#000"/>
<rect x="294" y="182" width="1" height="7" fill="#000"/>
<rect x="294" y="196" width="1" height="7" fill="#000"/>
<rect x="294" y="210" width="1" height="7" fill="#000"/>
<rect x="294" y="224" width="1" height="7" fill="#000"/>
<rect x="294" y="238" width="1" height="7" fill="#000"/>
<rect x="294" y="252" width="1" height="7" fill="#000"/>
<rect x="294" y="266" width="1" height="7" fill="#000"/>
<rect x="294" y="280" width="1" height="7" fill="#000"/>
<rect x="294" y="294" width="1" height="1" fill="#000"/>
<rect x="380" y="173" width="1" height="1" fill="#000"/>
<rect x="380" y="177" width="1" height="1" fill="#000"/>
<rect x="380" y="181" width="1" height="1" fill="#000"/>
<rect x="380" y="185" width="1" height="1" fill="#000"/>
<rect x="380" y="189" width="1" height="1" fill="#000"/>
<rect x="380" y="193" width="1" height="1" fill="#000"/>
<rect x="380" y="197" width="1" height="1" fill="#000"/>
<rect x="380" y="201" width="1" height="1" fill="#000"/>
<rect x="380" y="205" width="1" height="1" fill="#000"/>
<rect x="380" y="209" width="1" height="1" fill="#000"/>
<rect x="380" y="213" width="1" height="1" fill="#000"/>
<rect x="380" y="217" width="1" height="1" fill="#000"/>
<rect x="380" y="221" width="1" height="1" fill="#000"/>
<rect x="380" y="225" width="1" height="1" fill="#000"/>
<rect x="380" y="229" width="1" height="1" fill="#000"/>
<rect x="380" y="233" width="1" height="1" fill="#000"/>
<rect x="380" y="237" width="1" height="1" fill="#000"/>
<rect x="380" y="241" width="1" height="1" fill="#000"/>
<rect x="380" y="245" width="1" height="1" fill="#000"/>
<rect x="380" y="249" width="1" height="1" fill="#000"/>
<rect x="380" y="253" width="1" height="1" fill="#000"/>
<rect x="380" y="257" width="1" height="1" fill="#000"/>
<rect x="380" y="261" width="1" height="1" fill="#000"/>
<rect x="380" y="265" width="1" height="1" fill="#000"/>
<rect x="380" y="269" width="1" height="1" fill="#000"/>
<rect x="380" y="273" width="1" height="1" fill="#000"/>
<rect x="380" y="277" width="1" height="1" fill="#000"/>
<rect x="380" y="281" width="1" height="1" fill="#000"/>
<rect x="380" y="285" width="1" height="1" fill="#000"/>
<rect x="380" y="289" width="1" height="1" fill="#000"/>
<rect x="380" y="293" width="1" height="1" fill="#000"/>
<rect x="405" y="172" width="1" height="3" fill="#000"/>
<rect x="405" y="178" width="1" height="1" fill="#000"/>
<rect x="405" y="180" width="1" height="8" fill="#000"/>
<rect x="405" y="190" width="1" height="1" fill="#000"/>
<rect x="405" y="194" width="1" height="9" fill="#000"/>
<rect x="405" y="206" width="1" height="1" fill="#000"/>
<rect x="405" y="208" width="1" height="8" fill="#000"/>
<rect x="405" y="218" width="1" height="1" fill="#000"/>
<rect x="405" y="222" width="1" height="9" fill="#000"/>
<rect x="405" y="234" width="1" height="1" fill="#000"/>
<rect x="405" y="236" width="1" height="8" fill="#000"/>
<rect x="405" y="246" width="1" height="1" fill="#000"/>
<rect x="405" y="250" width="1" height="9" fill="#000"/>
<rect x="405" y="262" width="1" height="1" fill="#000"/>
<rect x="405" y="264" width="1" height="8" fill="#000"/>
<rect x="405" y="274" width="1" height="1" fill="#000"/>
<rect x="405" y="278" width="1" height="9" fill="#000"/>
<rect x="405" y="290" width="1" height="1" fill="#000"/>
<rect x="405" y="292" width="1" height="3" fill="#000"/>
<text x="253.18" y="285" font-size="14" textLength="8.27" lengthAdjust="spacingAndGlyphs" class="g">B</text>
<text x="381.20" y="285" font-size="14" textLength="8.12" lengthAdjust="spacingAndGlyphs" class="g">E</text>
<text x="404.60" y="285" font-size="14" textLength="8.81" lengthAdjust="spacingAndGlyphs" class="g">S</text>
<rect x="467" y="171" width="162" height="1" fill="#000"/>
<rect x="467" y="295" width="162" height="1" fill="#000"/>
<rect x="467" y="171" width="1" height="125" fill="#000"/>
<rect x="628" y="171" width="1" height="125" fill="#000"/>
<rect x="471" y="172" width="1" height="1" fill="#000"/>
<rect x="471" y="294" width="1" height="1" fill="#000"/>
<rect x="479" y="172" width="1" height="2" fill="#000"/>
<rect x="479" y="293" width="1" height="2" fill="#000"/>
<rect x="487" y="172" width="1" height="1" fill="#000"/>
<rect x="487" y="294" width="1" height="1" fill="#000"/>
<rect x="495" y="172" width="1" height="1" fill="#000"/>
<rect x="495" y="294" width="1" height="1" fill="#000"/>
<rect x="503" y="172" width="1" height="2" fill="#000"/>
<rect x="503" y="293" width="1" height="2" fill="#000"/>
<rect x="511" y="172" width="1" height="1" fill="#000"/>
<rect x="511" y="294" width="1" height="1" fill="#000"/>
<rect x="519" y="172" width="1" height="1" fill="#000"/>
<rect x="519" y="294" width="1" height="1" fill="#000"/>
<rect x="527" y="172" width="1" height="2" fill="#000"/>
<rect x="527" y="293" width="1" height="2" fill="#000"/>
<rect x="535" y="172" width="1" height="1" fill="#000"/>
<rect x="535" y="294" width="1" height="1" fill="#000"/>
<rect x="543" y="172" width="1" height="1" fill="#000"/>
<rect x="543" y="294" width="1" height="1" fill="#000"/>
<rect x="551" y="172" width="1" height="2" fill="#000"/>
<rect x="551" y="293" width="1" height="2" fill="#000"/>
<rect x="560" y="172" width="1" height="1" fill="#000"/>
<rect x="560" y="294" width="1" height="1" fill="#000"/>
<rect x="568" y="172" width="1" height="1" fill="#000"/>
<rect x="568" y="294" width="1" height="1" fill="#000"/>
<rect x="576" y="172" width="1" height="2" fill="#000"/>
<rect x="576" y="293" width="1" height="2" fill="#000"/>
<rect x="584" y="172" width="1" height="1" fill="#000"/>
<rect x="584" y="294" width="1" height="1" fill="#000"/>
<rect x="592" y="172" width="1" height="1" fill="#000"/>
<rect x="592" y="294" width="1" height="1" fill="#000"/>
<rect x="600" y="172" width="1" height="2" fill="#000"/>
<rect x="600" y="293" width="1" height="2" fill="#000"/>
<rect x="608" y="172" width="1" height="1" fill="#000"/>
<rect x="608" y="294" width="1" height="1" fill="#000"/>
<rect x="616" y="172" width="1" height="1" fill="#000"/>
<rect x="616" y="294" width="1" height="1" fill="#000"/>
<rect x="624" y="172" width="1" height="2" fill="#000"/>
<rect x="624" y="293" width="1" height="2" fill="#000"/>
<text x="469.92" y="305" font-size="7.2" textLength="18.17" lengthAdjust="spacingAndGlyphs">02:30</text>
<text x="493.92" y="305" font-size="7.2" textLength="18.19" lengthAdjust="spacingAndGlyphs">02:45</text>
<text x="517.92" y="305" font-size="7.2" textLength="18.17" lengthAdjust="spacingAndGlyphs">03:00</text>
<text x="541.92" y="305" font-size="7.2" textLength="18.19" lengthAdjust="spacingAndGlyphs">03:15</text>
<text x="566.92" y="305" font-size="7.2" textLength="18.17" lengthAdjust="spacingAndGlyphs">03:30</text>
<text x="590.92" y="305" font-size="7.2" textLength="18.19" lengthAdjust="spacingAndGlyphs">03:45</text>
<text x="614.92" y="305" font-size="7.2" textLength="18.17" lengthAdjust="spacingAndGlyphs">04:00</text>
<text x="489.86" y="313" font-size="8.4" textLength="16.00" lengthAdjust="spacingAndGlyphs">Start</text>
<text x="509.04" y="313" font-size="8.4" textLength="16.08" lengthAdjust="spacingAndGlyphs">Time</text>
<text x="527.67" y="313" font-size="8.4" textLength="42.50" lengthAdjust="spacingAndGlyphs">(27-Nov-16</text>
<text x="573.90" y="313" font-size="8.4" textLength="32.37" lengthAdjust="spacingAndGlyphs">02:22:40)</text>
<text x="472.44" y="168" font-size="8.4" textLength="14.43" lengthAdjust="spacingAndGlyphs">Det</text>
<text x="490.79" y="168" font-size="8.4" textLength="7.14" lengthAdjust="spacingAndGlyphs">6r</text>
<text x="503.57" y="168" font-size="8.4" textLength="25.32" lengthAdjust="spacingAndGlyphs">BLACK</text>
<text x="533.64" y="168" font-size="8.4" textLength="6.73" lengthAdjust="spacingAndGlyphs">=</text>
<text x="544.46" y="168" font-size="8.4" textLength="30.15" lengthAdjust="spacingAndGlyphs">Events,</text>
<text x="577.55" y="168" font-size="8.4" textLength="16.62" lengthAdjust="spacingAndGlyphs">RED</text>
<text x="597.54" y="168" font-size="8.4" textLength="7.93" lengthAdjust="spacingAndGlyphs">=</text>
<text x="608.55" y="168" font-size="8.4" textLength="14.64" lengthAdjust="spacingAndGlyphs">LLD</text>
<text transform="translate(447,254.20) rotate(-90)" font-size="8.4" textLength="39.20" lengthAdjust="spacingAndGlyphs" class="c">Counts/sec</text>
<rect x="468" y="171" width="3" height="1" fill="#000"/>
<rect x="625" y="171" width="3" height="1" fill="#000"/>
<rect x="468" y="177" width="1" height="1" fill="#000"/>
<rect x="626" y="177" width="2" height="1" fill="#000"/>
<rect x="468" y="181" width="1" height="1" fill="#000"/>
<rect x="626" y="181" width="2" height="1" fill="#000"/>
<rect x="468" y="183" width="1" height="1" fill="#000"/>
<rect x="626" y="183" width="2" height="1" fill="#000"/>
<rect x="468" y="185" width="1" height="1" fill="#000"/>
<rect x="626" y="185" width="2" height="1" fill="#000"/>
<rect x="468" y="187" width="1" height="1" fill="#000"/>
<rect x="626" y="187" width="2" height="1" fill="#000"/>
<rect x="468" y="188" width="1" height="1" fill="#000"/>
<rect x="626" y="188" width="2" height="1" fill="#000"/>
<rect x="468" y="190" width="1" height="1" fill="#000"/>
<rect x="626" y="190" width="2" height="1" fill="#000"/>
<rect x="468" y="191" width="1" height="1" fill="#000"/>
<rect x="626" y="191" width="2" height="1" fill="#000"/>
<text x="451.70" y="176" font-size="7.2" textLength="7.36" lengthAdjust="spacingAndGlyphs">10</text>
<text x="458.89" y="173" font-size="6" textLength="6.22" lengthAdjust="spacingAndGlyphs" class="x">-6</text>
<rect x="468" y="192" width="3" height="1" fill="#000"/>
<rect x="625" y="192" width="3" height="1" fill="#000"/>
<rect x="468" y="198" width="1" height="1" fill="#000"/>
<rect x="626" y="198" width="2" height="1" fill="#000"/>
<rect x="468" y="202" width="1" height="1" fill="#000"/>
<rect x="626" y="202" width="2" height="1" fill="#000"/>
<rect x="468" y="204" width="1" height="1" fill="#000"/>
<rect x="626" y="204" width="2" height="1" fill="#000"/>
<rect x="468" y="206" width="1" height="1" fill="#000"/>
<rect x="626" y="206" width="2" height="1" fill="#000"/>
<rect x="468" y="208" width="1" height="1" fill="#000"/>
<rect x="626" y="208" width="2" height="1" fill="#000"/>
<rect x="468" y="209" width="1" height="1" fill="#000"/>
<rect x="626" y="209" width="2" height="1" fill="#000"/>
<rect x="468" y="210" width="1" height="1" fill="#000"/>
<rect x="626" y="210" width="2" height="1" fill="#000"/>
<rect x="468" y="211" width="1" height="1" fill="#000"/>
<rect x="626" y="211" width="2" height="1" fill="#000"/>
<text x="451.70" y="196" font-size="8.4" textLength="7.36" lengthAdjust="spacingAndGlyphs">10</text>
<text x="458.89" y="193" font-size="6" textLength="6.20" lengthAdjust="spacingAndGlyphs" class="x">-5</text>
<rect x="468" y="212" width="3" height="1" fill="#000"/>
<rect x="625" y="212" width="3" height="1" fill="#000"/>
<rect x="468" y="219" width="1" height="1" fill="#000"/>
<rect x="626" y="219" width="2" height="1" fill="#000"/>
<rect x="468" y="222" width="1" height="1" fill="#000"/>
<rect x="626" y="222" width="2" height="1" fill="#000"/>
<rect x="468" y="225" width="1" height="1" fill="#000"/>
<rect x="626" y="225" width="2" height="1" fill="#000"/>
<rect x="468" y="227" width="1" height="1" fill="#000"/>
<rect x="626" y="227" width="2" height="1" fill="#000"/>
<rect x="468" y="228" width="1" height="1" fill="#000"/>
<rect x="626" y="228" width="2" height="1" fill="#000"/>
<rect x="468" y="230" width="1" height="1" fill="#000"/>
<rect x="626" y="230" width="2" height="1" fill="#000"/>
<rect x="468" y="231" width="1" height="1" fill="#000"/>
<rect x="626" y="231" width="2" height="1" fill="#000"/>
<rect x="468" y="232" width="1" height="1" fill="#000"/>
<rect x="626" y="232" width="2" height="1" fill="#000"/>
<text x="451.70" y="216" font-size="8.4" textLength="7.36" lengthAdjust="spacingAndGlyphs">10</text>
<text x="458.89" y="213" font-size="6" textLength="6.11" lengthAdjust="spacingAndGlyphs" class="x">-4</text>
<rect x="468" y="233" width="3" height="1" fill="#000"/>
<rect x="625" y="233" width="3" height="1" fill="#000"/>
<rect x="468" y="239" width="1" height="1" fill="#000"/>
<rect x="626" y="239" width="2" height="1" fill="#000"/>
<rect x="468" y="243" width="1" height="1" fill="#000"/>
<rect x="626" y="243" width="2" height="1" fill="#000"/>
<rect x="468" y="245" width="1" height="1" fill="#000"/>
<rect x="626" y="245" width="2" height="1" fill="#000"/>
<rect x="468" y="247" width="1" height="1" fill="#000"/>
<rect x="626" y="247" width="2" height="1" fill="#000"/>
<rect x="468" y="249" width="1" height="1" fill="#000"/>
<rect x="626" y="249" width="2" height="1" fill="#000"/>
<rect x="468" y="250" width="1" height="1" fill="#000"/>
<rect x="626" y="250" width="2" height="1" fill="#000"/>
<rect x="468" y="252" width="1" height="1" fill="#000"/>
<rect x="626" y="252" width="2" height="1" fill="#000"/>
<rect x="468" y="253" width="1" height="1" fill="#000"/>
<rect x="626" y="253" width="2" height="1" fill="#000"/>
<text x="451.70" y="237" font-size="8.4" textLength="7.36" lengthAdjust="spacingAndGlyphs">10</text>
<text x="458.89" y="234" font-size="6" textLength="6.22" lengthAdjust="spacingAndGlyphs" class="x">-3</text>
<rect x="468" y="254" width="3" height="1" fill="#000"/>
<rect x="625" y="254" width="3" height="1" fill="#000"/>
<rect x="468" y="260" width="1" height="1" fill="#000"/>
<rect x="626" y="260" width="2" height="1" fill="#000"/>
<rect x="468" y="264" width="1" height="1" fill="#000"/>
<rect x="626" y="264" width="2" height="1" fill="#000"/>
<rect x="468" y="266" width="1" height="1" fill="#000"/>
<rect x="626" y="266" width="2" height="1" fill="#000"/>
<rect x="468" y="268" width="1" height="1" fill="#000"/>
<rect x="626" y="268" width="2" height="1" fill="#000"/>
<rect x="468" y="270" width="1" height="1" fill="#000"/>
<rect x="626" y="270" width="2" height="1" fill="#000"/>
<rect x="468" y="271" width="1" height="1" fill="#000"/>
<rect x="626" y="271" width="2" height="1" fill="#000"/>
<rect x="468" y="272" width="1" height="1" fill="#000"/>
<rect x="626" y="272" width="2" height="1" fill="#000"/>
<rect x="468" y="273" width="1" height="1" fill="#000"/>
<rect x="626" y="273" width="2" height="1" fill="#000"/>
<text x="451.70" y="258" font-size="8.4" textLength="7.36" lengthAdjust="spacingAndGlyphs">10</text>
<text x="458.89" y="255" font-size="6" textLength="6.27" lengthAdjust="spacingAndGlyphs" class="x">-2</text>
<rect x="468" y="274" width="3" height="1" fill="#000"/>
<rect x="625" y="274" width="3" height="1" fill="#000"/>
<rect x="468" y="281" width="1" height="1" fill="#000"/>
<rect x="626" y="281" width="2" height="1" fill="#000"/>
<rect x="468" y="284" width="1" height="1" fill="#000"/>
<rect x="626" y="284" width="2" height="1" fill="#000"/>
<rect x="468" y="287" width="1" height="1" fill="#000"/>
<rect x="626" y="287" width="2" height="1" fill="#000"/>
<rect x="468" y="289" width="1" height="1" fill="#000"/>
<rect x="626" y="289" width="2" height="1" fill="#000"/>
<rect x="468" y="290" width="1" height="1" fill="#000"/>
<rect x="626" y="290" width="2" height="1" fill="#000"/>
<rect x="468" y="292" width="1" height="1" fill="#000"/>
<rect x="626" y="292" width="2" height="1" fill="#000"/>
<rect x="468" y="293" width="1" height="1" fill="#000"/>
<rect x="626" y="293" width="2" height="1" fill="#000"/>
<rect x="468" y="294" width="1" height="1" fill="#000"/>
<rect x="626" y="294" width="2" height="1" fill="#000"/>
<text x="451.70" y="278" font-size="8.4" textLength="7.36" lengthAdjust="spacingAndGlyphs">10</text>
<text x="458.89" y="275" font-size="6" textLength="6.26" lengthAdjust="spacingAndGlyphs" class="x">-1</text>
<rect x="468" y="295" width="3" height="1" fill="#000"/>
<rect x="625" y="295" width="3" height="1" fill="#000"/>
<text x="454.70" y="296" font-size="8.4" textLength="7.36" lengthAdjust="spacingAndGlyphs">10</text>
<text x="461.99" y="293" font-size="6" textLength="3.02" lengthAdjust="spacingAndGlyphs" class="x">0</text>
<rect x="492" y="172" width="1" height="1" fill="#000"/>
<rect x="492" y="176" width="1" height="1" fill="#000"/>
<rect x="492" y="180" width="1" height="1" fill="#000"/>
<rect x="492" y="184" width="1" height="1" fill="#000"/>
<rect x="492" y="188" width="1" height="1" fill="#000"/>
<rect x="492" y="192" width="1" height="1" fill="#000"/>
<rect x="492" y="196" width="1" height="1" fill="#000"/>
<rect x="492" y="200" width="1" height="1" fill="#000"/>
<rect x="492" y="204" width="1" height="1" fill="#000"/>
<rect x="492" y="208" width="1" height="1" fill="#000"/>
<rect x="492" y="212" width="1" height="1" fill="#000"/>
<rect x="492" y="216" width="1" height="1" fill="#000"/>
<rect x="492" y="220" width="1" height="1" fill="#000"/>
<rect x="492" y="224" width="1" height="1" fill="#000"/>
<rect x="492" y="228" width="1" height="1" fill="#000"/>
<rect x="492" y="232" width="1" height="1" fill="#000"/>
<rect x="492" y="236" width="1" height="1" fill="#000"/>
<rect x="492" y="240" width="1" height="1" fill="#000"/>
<rect x="492" y="244" width="1" height="1" fill="#000"/>
<rect x="492" y="248" width="1" height="1" fill="#000"/>
<rect x="492" y="252" width="1" height="1" fill="#000"/>
<rect x="492" y="256" width="1" height="1" fill="#000"/>
<rect x="492" y="260" width="1" height="1" fill="#000"/>
<rect x="492" y="264" width="1" height="1" fill="#000"/>
<rect x="492" y="268" width="1" height="1" fill="#000"/>
<rect x="492" y="272" width="1" height="1" fill="#000"/>
<rect x="492" y="276" width="1" height="1" fill="#000"/>
<rect x="492" y="280" width="1" height="1" fill="#000"/>
<rect x="492" y="284" width="1" height="1" fill="#000"/>
<rect x="492" y="288" width="1" height="1" fill="#000"/>
<rect x="492" y="292" width="1" height="1" fill="#000"/>
<rect x="507" y="178" width="1" height="7" fill="#000"/>
<rect x="507" y="192" width="1" height="7" fill="#000"/>
<rect x="507" y="206" width="1" height="7" fill="#000"/>
<rect x="507" y="220" width="1" height="7" fill="#000"/>
<rect x="507" y="234" width="1" height="7" fill="#000"/>
<rect x="507" y="248" width="1" height="7" fill="#000"/>
<rect x="507" y="262" width="1" height="7" fill="#000"/>
<rect x="507" y="276" width="1" height="7" fill="#000"/>
<rect x="507" y="290" width="1" height="5" fill="#000"/>
<rect x="594" y="173" width="1" height="1" fill="#000"/>
<rect x="594" y="177" width="1" height="1" fill="#000"/>
<rect x="594" y="181" width="1" height="1" fill="#000"/>
<rect x="594" y="185" width="1" height="1" fill="#000"/>
<rect x="594" y="189" width="1" height="1" fill="#000"/>
<rect x="594" y="193" width="1" height="1" fill="#000"/>
<rect x="594" y="197" width="1" height="1" fill="#000"/>
<rect x="594" y="201" width="1" height="1" fill="#000"/>
<rect x="594" y="205" width="1" height="1" fill="#000"/>
<rect x="594" y="209" width="1" height="1" fill="#000"/>
<rect x="594" y="213" width="1" height="1" fill="#000"/>
<rect x="594" y="217" width="1" height="1" fill="#000"/>
<rect x="594" y="221" width="1" height="1" fill="#000"/>
<rect x="594" y="225" width="1" height="1" fill="#000"/>
<rect x="594" y="229" width="1" height="1" fill="#000"/>
<rect x="594" y="233" width="1" height="1" fill="#000"/>
<rect x="594" y="237" width="1" height="1" fill="#000"/>
<rect x="594" y="241" width="1" height="1" fill="#000"/>
<rect x="594" y="245" width="1" height="1" fill="#000"/>
<rect x="594" y="249" width="1" height="1" fill="#000"/>
<rect x="594" y="253" width="1" height="1" fill="#000"/>
<rect x="594" y="257" width="1" height="1" fill="#000"/>
<rect x="594" y="261" width="1" height="1" fill="#000"/>
<rect x="594" y="265" width="1" height="1" fill="#000"/>
<rect x="594" y="269" width="1" height="1" fill="#000"/>
<rect x="594" y="273" width="1" height="1" fill="#000"/>
<rect x="594" y="277" width="1" height="1" fill="#000"/>
<rect x="594" y="281" width="1" height="1" fill="#000"/>
<rect x="594" y="285" width="1" height="1" fill="#000"/>
<rect x="594" y="289" width="1" height="1" fill="#000"/>
<rect x="594" y="293" width="1" height="1" fill="#000"/>
<rect x="619" y="174" width="1" height="1" fill="#000"/>
<rect x="619" y="176" width="1" height="8" fill="#000"/>
<rect x="619" y="186" width="1" height="1" fill="#000"/>
<rect x="619" y="190" width="1" height="9" fill="#000"/>
<rect x="619" y="202" width="1" height="1" fill="#000"/>
<rect x="619" y="204" width="1" height="8" fill="#000"/>
<rect x="619" y="214" width="1" height="1" fill="#000"/>
<rect x="619" y="218" width="1" height="9" fill="#000"/>
<rect x="619" y="230" width="1" height="1" fill="#000"/>
<rect x="619" y="232" width="1" height="8" fill="#000"/>
<rect x="619" y="242" width="1" height="1" fill="#000"/>
<rect x="619" y="246" width="1" height="9" fill="#000"/>
<rect x="619" y="258" width="1" height="1" fill="#000"/>
<rect x="619" y="260" width="1" height="8" fill="#000"/>
<rect x="619" y="270" width="1" height="1" fill="#000"/>
<rect x="619" y="274" width="1" height="9" fill="#000"/>
<rect x="619" y="286" width="1" height="1" fill="#000"/>
<rect x="619" y="288" width="1" height="7" fill="#000"/>
<text x="467.18" y="285" font-size="14" textLength="8.27" lengthAdjust="spacingAndGlyphs" class="g">B</text>
<text x="594.20" y="285" font-size="14" textLength="8.12" lengthAdjust="spacingAndGlyphs" class="g">E</text>
<text x="618.60" y="285" font-size="14" textLength="8.81" lengthAdjust="spacingAndGlyphs" class="g">S</text>
<rect x="40" y="331" width="162" height="1" fill="#000"/>
<rect x="40" y="455" width="162" height="1" fill="#000"/>
<rect x="40" y="331" width="1" height="125" fill="#000"/>
<rect x="201" y="331" width="1" height="125" fill="#000"/>
<rect x="44" y="332" width="1" height="1" fill="#000"/>
<rect x="44" y="454" width="1" height="1" fill="#000"/>
<rect x="52" y="332" width="1" height="2" fill="#000"/>
<rect x="52" y="453" width="1" height="2" fill="#000"/>
<rect x="60" y="332" width="1" height="1" fill="#000"/>
<rect x="60" y="454" width="1" height="1" fill="#000"/>
<rect x="68" y="332" width="1" height="1" fill="#000"/>
<rect x="68" y="454" width="1" height="1" fill="#000"/>
<rect x="76" y="332" width="1" height="2" fill="#000"/>
<rect x="76" y="453" width="1" height="2" fill="#000"/>
<rect x="84" y="332" width="1" height="1" fill="#000"/>
<rect x="84" y="454" width="1" height="1" fill="#000"/>
<rect x="92" y="332" width="1" height="1" fill="#000"/>
<rect x="92" y="454" width="1" height="1" fill="#000"/>
<rect x="100" y="332" width="1" height="2" fill="#000"/>
<rect x="100" y="453" width="1" height="2" fill="#000"/>
<rect x="108" y="332" width="1" height="1" fill="#000"/>
<rect x="108" y="454" width="1" height="1" fill="#000"/>
<rect x="116" y="332" width="1" height="1" fill="#000"/>
<rect x="116" y="454" width="1" height="1" fill="#000"/>
<rect x="124" y="332" width="1" height="2" fill="#000"/>
<rect x="124" y="453" width="1" height="2" fill="#000"/>
<rect x="133" y="332" width="1" height="1" fill="#000"/>
<rect x="133" y="454" width="1" height="1" fill="#000"/>
<rect x="141" y="332" width="1" height="1" fill="#000"/>
<rect x="141" y="454" width="1" height="1" fill="#000"/>
<rect x="149" y="332" width="1" height="2" fill="#000"/>
<rect x="149" y="453" width="1" height="2" fill="#000"/>
<rect x="157" y="332" width="1" height="1" fill="#000"/>
<rect x="157" y="454" width="1" height="1" fill="#000"/>
<rect x="165" y="332" width="1" height="1" fill="#000"/>
<rect x="165" y="454" width="1" height="1" fill="#000"/>
<rect x="173" y="332" width="1" height="2" fill="#000"/>
<rect x="173" y="453" width="1" height="2" fill="#000"/>
<rect x="181" y="332" width="1" height="1" fill="#000"/>
<rect x="181" y="454" width="1" height="1" fill="#000"/>
<rect x="189" y="332" width="1" height="1" fill="#000"/>
<rect x="189" y="454" width="1" height="1" fill="#000"/>
<rect x="197" y="332" width="1" height="2" fill="#000"/>
<rect x="197" y="453" width="1" height="2" fill="#000"/>
<text x="42.92" y="465" font-size="7.2" textLength="18.17" lengthAdjust="spacingAndGlyphs">02:30</text>
<text x="66.92" y="465" font-size="7.2" textLength="18.19" lengthAdjust="spacingAndGlyphs">02:45</text>
<text x="90.92" y="465" font-size="7.2" textLength="18.17" lengthAdjust="spacingAndGlyphs">03:00</text>
<text x="114.92" y="465" font-size="7.2" textLength="18.19" lengthAdjust="spacingAndGlyphs">03:15</text>
<text x="139.92" y="465" font-size="7.2" textLength="18.17" lengthAdjust="spacingAndGlyphs">03:30</text>
<text x="163.92" y="465" font-size="7.2" textLength="18.19" lengthAdjust="spacingAndGlyphs">03:45</text>
<text x="187.92" y="465" font-size="7.2" textLength="18.17" lengthAdjust="spacingAndGlyphs">04:00</text>
<text x="62.86" y="473" font-size="8.4" textLength="16.00" lengthAdjust="spacingAndGlyphs">Start</text>
<text x="82.04" y="473" font-size="8.4" textLength="16.08" lengthAdjust="spacingAndGlyphs">Time</text>
<text x="100.67" y="473" font-size="8.4" textLength="42.50" lengthAdjust="spacingAndGlyphs">(27-Nov-16</text>
<text x="146.90" y="473" font-size="8.4" textLength="32.37" lengthAdjust="spacingAndGlyphs">02:22:40)</text>
<text x="45.44" y="328" font-size="8.4" textLength="14.43" lengthAdjust="spacingAndGlyphs">Det</text>
<text x="63.79" y="328" font-size="8.4" textLength="7.15" lengthAdjust="spacingAndGlyphs">7r</text>
<text x="76.57" y="328" font-size="8.4" textLength="25.32" lengthAdjust="spacingAndGlyphs">BLACK</text>
<text x="106.64" y="328" font-size="8.4" textLength="6.73" lengthAdjust="spacingAndGlyphs">=</text>
<text x="117.46" y="328" font-size="8.4" textLength="30.15" lengthAdjust="spacingAndGlyphs">Events,</text>
<text x="150.55" y="328" font-size="8.4" textLength="16.62" lengthAdjust="spacingAndGlyphs">RED</text>
<text x="170.54" y="328" font-size="8.4" textLength="7.93" lengthAdjust="spacingAndGlyphs">=</text>
<text x="181.55" y="328" font-size="8.4" textLength="14.64" lengthAdjust="spacingAndGlyphs">LLD</text>
<text transform="translate(20,414.20) rotate(-90)" font-size="8.4" textLength="39.20" lengthAdjust="spacingAndGlyphs" class="c">Counts/sec</text>
<rect x="41" y="331" width="3" height="1" fill="#000"/>
<rect x="198" y="331" width="3" height="1" fill="#000"/>
<rect x="41" y="337" width="2" height="1" fill="#000"/>
<rect x="200" y="337" width="1" height="1" fill="#000"/>
<rect x="41" y="341" width="2" height="1" fill="#000"/>
<rect x="200" y="341" width="1" height="1" fill="#000"/>
<rect x="41" y="343" width="2" height="1" fill="#000"/>
<rect x="200" y="343" width="1" height="1" fill="#000"/>
<rect x="41" y="345" width="2" height="1" fill="#000"/>
<rect x="200" y="345" width="1" height="1" fill="#000"/>
<rect x="41" y="347" width="2" height="1" fill="#000"/>
<rect x="200" y="347" width="1" height="1" fill="#000"/>
<rect x="41" y="348" width="2" height="1" fill="#000"/>
<rect x="200" y="348" width="1" height="1" fill="#000"/>
<rect x="41" y="350" width="2" height="1" fill="#000"/>
<rect x="200" y="350" width="1" height="1" fill="#000"/>
<rect x="41" y="351" width="2" height="1" fill="#000"/>
<rect x="200" y="351" width="1" height="1" fill="#000"/>
<text x="24.70" y="336" font-size="7.2" textLength="7.36" lengthAdjust="spacingAndGlyphs">10</text>
<text x="31.89" y="333" font-size="6" textLength="6.22" lengthAdjust="spacingAndGlyphs" class="x">-6</text>
<rect x="41" y="352" width="3" height="1" fill="#000"/>
<rect x="198" y="352" width="3" height="1" fill="#000"/>
<rect x="41" y="358" width="2" height="1" fill="#000"/>
<rect x="200" y="358" width="1" height="1" fill="#000"/>
<rect x="41" y="362" width="2" height="1" fill="#000"/>
<rect x="200" y="362" width="1" height="1" fill="#000"/>
<rect x="41" y="364" width="2" height="1" fill="#000"/>
<rect x="200" y="364" width="1" height="1" fill="#000"/>
<rect x="41" y="366" width="2" height="1" fill="#000"/>
<rect x="200" y="366" width="1" height="1" fill="#000"/>
<rect x="41" y="368" width="2" height="1" fill="#000"/>
<rect x="200" y="368" width="1" height="1" fill="#000"/>
<rect x="41" y="369" width="2" height="1" fill="#000"/>
<rect x="200" y="369" width="1" height="1" fill="#000"/>
<rect x="41" y="370" width="2" height="1" fill="#000"/>
<rect x="200" y="370" width="1" height="1" fill="#000"/>
<rect x="41" y="371" width="2" height="1" fill="#000"/>
<rect x="200" y="371" width="1" height="1" fill="#000"/>
<text x="24.70" y="356" font-size="8.4" textLength="7.36" lengthAdjust="spacingAndGlyphs">10</text>
<text x="31.89" y="353" font-size="6" textLength="6.20" lengthAdjust="spacingAndGlyphs" class="x">-5</text>
<rect x="41" y="372" width="3" height="1" fill="#000"/>
<rect x="198" y="372" width="3" height="1" fill="#000"/>
<rect x="41" y="379" width="2" height="1" fill="#000"/>
<rect x="200" y="379" width="1" height="1" fill="#000"/>
<rect x="41" y="382" width="2" height="1" fill="#000"/>
<rect x="200" y="382" width="1" height="1" fill="#000"/>
<rect x="41" y="385" width="2" height="1" fill="#000"/>
<rect x="200" y="385" width="1" height="1" fill="#000"/>
<rect x="41" y="387" width="2" height="1" fill="#000"/>
<rect x="200" y="387" width="1" height="1" fill="#000"/>
<rect x="41" y="388" width="2" height="1" fill="#000"/>
<rect x="200" y="388" width="1" height="1" fill="#000"/>
<rect x="41" y="390" width="2" height="1" fill="#000"/>
<rect x="200" y="390" width="1" height="1" fill="#000"/>
<rect x="41" y="391" width="2" height="1" fill="#000"/>
<rect x="200" y="391" width="1" height="1" fill="#000"/>
<rect x="41" y="392" width="2" height="1" fill="#000"/>
<rect x="200" y="392" width="1" height="1" fill="#000"/>
<text x="24.70" y="376" font-size="8.4" textLength="7.36" lengthAdjust="spacingAndGlyphs">10</text>
<text x="31.89" y="373" font-size="6" textLength="6.11" lengthAdjust="spacingAndGlyphs" class="x">-4</text>
<rect x="41" y="393" width="3" height="1" fill="#000"/>
<rect x="198" y="393" width="3" height="1" fill="#000"/>
<rect x="41" y="399" width="2" height="1" fill="#000"/>
<rect x="200" y="399" width="1" height="1" fill="#000"/>
<rect x="41" y="403" width="2" height="1" fill="#000"/>
<rect x="200" y="403" width="1" height="1" fill="#000"/>
<rect x="41" y="405" width="2" height="1" fill="#000"/>
<rect x="200" y="405" width="1" height="1" fill="#000"/>
<rect x="41" y="407" width="2" height="1" fill="#000"/>
<rect x="200" y="407" width="1" height="1" fill="#000"/>
<rect x="41" y="409" width="2" height="1" fill="#000"/>
<rect x="200" y="409" width="1" height="1" fill="#000"/>
<rect x="41" y="410" width="2" height="1" fill="#000"/>
<rect x="200" y="410" width="1" height="1" fill="#000"/>
<rect x="41" y="412" width="2" height="1" fill="#000"/>
<rect x="200" y="412" width="1" height="1" fill="#000"/>
<rect x="41" y="413" width="2" height="1" fill="#000"/>
<rect x="200" y="413" width="1" height="1" fill="#000"/>
<text x="24.70" y="397" font-size="8.4" textLength="7.36" lengthAdjust="spacingAndGlyphs">10</text>
<text x="31.89" y="394" font-size="6" textLength="6.22" lengthAdjust="spacingAndGlyphs" class="x">-3</text>
<rect x="41" y="414" width="3" height="1" fill="#000"/>
<rect x="198" y="414" width="3" height="1" fill="#000"/>
<rect x="41" y="420" width="2" height="1" fill="#000"/>
<rect x="200" y="420" width="1" height="1" fill="#000"/>
<rect x="41" y="424" width="2" height="1" fill="#000"/>
<rect x="200" y="424" width="1" height="1" fill="#000"/>
<rect x="41" y="426" width="2" height="1" fill="#000"/>
<rect x="200" y="426" width="1" height="1" fill="#000"/>
<rect x="41" y="428" width="2" height="1" fill="#000"/>
<rect x="200" y="428" width="1" height="1" fill="#000"/>
<rect x="41" y="430" width="2" height="1" fill="#000"/>
<rect x="200" y="430" width="1" height="1" fill="#000"/>
<rect x="41" y="431" width="2" height="1" fill="#000"/>
<rect x="200" y="431" width="1" height="1" fill="#000"/>
<rect x="41" y="432" width="2" height="1" fill="#000"/>
<rect x="200" y="432" width="1" height="1" fill="#000"/>
<rect x="41" y="433" width="2" height="1" fill="#000"/>
<rect x="200" y="433" width="1" height="1" fill="#000"/>
<text x="24.70" y="418" font-size="8.4" textLength="7.36" lengthAdjust="spacingAndGlyphs">10</text>
<text x="31.89" y="415" font-size="6" textLength="6.27" lengthAdjust="spacingAndGlyphs" class="x">-2</text>
<rect x="41" y="434" width="3" height="1" fill="#000"/>
<rect x="198" y="434" width="3" height="1" fill="#000"/>
<rect x="41" y="441" width="2" height="1" fill="#000"/>
<rect x="200" y="441" width="1" height="1" fill="#000"/>
<rect x="41" y="444" width="2" height="1" fill="#000"/>
<rect x="200" y="444" width="1" height="1" fill="#000"/>
<rect x="41" y="447" width="2" height="1" fill="#000"/>
<rect x="200" y="447" width="1" height="1" fill="#000"/>
<rect x="41" y="449" width="2" height="1" fill="#000"/>
<rect x="200" y="449" width="1" height="1" fill="#000"/>
<rect x="41" y="450" width="2" height="1" fill="#000"/>
<rect x="200" y="450" width="1" height="1" fill="#000"/>
<rect x="41" y="452" width="2" height="1" fill="#000"/>
<rect x="200" y="452" width="1" height="1" fill="#000"/>
<rect x="41" y="453" width="2" height="1" fill="#000"/>
<rect x="200" y="453" width="1" height="1" fill="#000"/>
<rect x="41" y="454" width="2" height="1" fill="#000"/>
<rect x="200" y="454" width="1" height="1" fill="#000"/>
<text x="24.70" y="438" font-size="8.4" textLength="7.36" lengthAdjust="spacingAndGlyphs">10</text>
<text x="31.89" y="435" font-size="6" textLength="6.26" lengthAdjust="spacingAndGlyphs" class="x">-1</text>
<rect x="41" y="455" width="3" height="1" fill="#000"/>
<rect x="198" y="455" width="3" height="1" fill="#000"/>
<text x="27.70" y="456" font-size="8.4" textLength="7.36" lengthAdjust="spacingAndGlyphs">10</text>
<text x="34.99" y="453" font-size="6" textLength="3.02" lengthAdjust="spacingAndGlyphs" class="x">0</text>
<rect x="65" y="332" width="1" height="1" fill="#000"/>
<rect x="65" y="336" width="1" height="1" fill="#000"/>
<rect x="65" y="340" width="1" height="1" fill="#000"/>
<rect x="65" y="344" width="1" height="1" fill="#000"/>
<rect x="65" y="348" width="1" height="1" fill="#000"/>
<rect x="65" y="352" width="1" height="1" fill="#000"/>
<rect x="65" y="356" width="1" height="1" fill="#000"/>
<rect x="65" y="360" width="1" height="1" fill="#000"/>
<rect x="65" y="364" width="1" height="1" fill="#000"/>
<rect x="65" y="368" width="1" height="1" fill="#000"/>
<rect x="65" y="372" width="1" height="1" fill="#000"/>
<rect x="65" y="376" width="1" height="1" fill="#000"/>
<rect x="65" y="380" width="1" height="1" fill="#000"/>
<rect x="65" y="384" width="1" height="1" fill="#000"/>
<rect x="65" y="388" width="1" height="1" fill="#000"/>
<rect x="65" y="392" width="1" height="1" fill="#000"/>
<rect x="65" y="396" width="1" height="1" fill="#000"/>
<rect x="65" y="400" width="1" height="1" fill="#000"/>
<rect x="65" y="404" width="1" height="1" fill="#000"/>
<rect x="65" y="408" width="1" height="1" fill="#000"/>
<rect x="65" y="412" width="1" height="1" fill="#000"/>
<rect x="65" y="416" width="1" height="1" fill="#000"/>
<rect x="65" y="420" width="1" height="1" fill="#000"/>
<rect x="65" y="424" width="1" height="1" fill="#000"/>
<rect x="65" y="428" width="1" height="1" fill="#000"/>
<rect x="65" y="432" width="1" height="1" fill="#000"/>
<rect x="65" y="436" width="1" height="1" fill="#000"/>
<rect x="65" y="440" width="1" height="1" fill="#000"/>
<rect x="65" y="444" width="1" height="1" fill="#000"/>
<rect x="65" y="448" width="1" height="1" fill="#000"/>
<rect x="65" y="452" width="1" height="1" fill="#000"/>
<rect x="80" y="334" width="1" height="7" fill="#000"/>
<rect x="80" y="348" width="1" height="7" fill="#000"/>
<rect x="80" y="362" width="1" height="7" fill="#000"/>
<rect x="80" y="376" width="1" height="7" fill="#000"/>
<rect x="80" y="390" width="1" height="7" fill="#000"/>
<rect x="80" y="404" width="1" height="7" fill="#000"/>
<rect x="80" y="418" width="1" height="7" fill="#000"/>
<rect x="80" y="432" width="1" height="7" fill="#000"/>
<rect x="80" y="446" width="1" height="7" fill="#000"/>
<rect x="167" y="333" width="1" height="1" fill="#000"/>
<rect x="167" y="337" width="1" height="1" fill="#000"/>
<rect x="167" y="341" width="1" height="1" fill="#000"/>
<rect x="167" y="345" width="1" height="1" fill="#000"/>
<rect x="167" y="349" width="1" height="1" fill="#000"/>
<rect x="167" y="353" width="1" height="1" fill="#000"/>
<rect x="167" y="357" width="1" height="1" fill="#000"/>
<rect x="167" y="361" width="1" height="1" fill="#000"/>
<rect x="167" y="365" width="1" height="1" fill="#000"/>
<rect x="167" y="369" width="1" height="1" fill="#000"/>
<rect x="167" y="373" width="1" height="1" fill="#000"/>
<rect x="167" y="377" width="1" height="1" fill="#000"/>
<rect x="167" y="381" width="1" height="1" fill="#000"/>
<rect x="167" y="385" width="1" height="1" fill="#000"/>
<rect x="167" y="389" width="1" height="1" fill="#000"/>
<rect x="167" y="393" width="1" height="1" fill="#000"/>
<rect x="167" y="397" width="1" height="1" fill="#000"/>
<rect x="167" y="401" width="1" height="1" fill="#000"/>
<rect x="167" y="405" width="1" height="1" fill="#000"/>
<rect x="167" y="409" width="1" height="1" fill="#000"/>
<rect x="167" y="413" width="1" height="1" fill="#000"/>
<rect x="167" y="417" width="1" height="1" fill="#000"/>
<rect x="167" y="421" width="1" height="1" fill="#000"/>
<rect x="167" y="425" width="1" height="1" fill="#000"/>
<rect x="167" y="429" width="1" height="1" fill="#000"/>
<rect x="167" y="433" width="1" height="1" fill="#000"/>
<rect x="167" y="437" width="1" height="1" fill="#000"/>
<rect x="167" y="441" width="1" height="1" fill="#000"/>
<rect x="167" y="445" width="1" height="1" fill="#000"/>
<rect x="167" y="449" width="1" height="1" fill="#000"/>
<rect x="167" y="453" width="1" height="1" fill="#000"/>
<rect x="192" y="332" width="1" height="8" fill="#000"/>
<rect x="192" y="342" width="1" height="1" fill="#000"/>
<rect x="192" y="346" width="1" height="9" fill="#000"/>
<rect x="192" y="358" width="1" height="1" fill="#000"/>
<rect x="192" y="360" width="1" height="8" fill="#000"/>
<rect x="192" y="370" width="1" height="1" fill="#000"/>
<rect x="192" y="374" width="1" height="9" fill="#000"/>
<rect x="192" y="386" width="1" height="1" fill="#000"/>
<rect x="192" y="388" width="1" height="8" fill="#000"/>
<rect x="192" y="398" width="1" height="1" fill="#000"/>
<rect x="192" y="402" width="1" height="9" fill="#000"/>
<rect x="192" y="414" width="1" height="1" fill="#000"/>
<rect x="192" y="416" width="1" height="8" fill="#000"/>
<rect x="192" y="426" width="1" height="1" fill="#000"/>
<rect x="192" y="430" width="1" height="9" fill="#000"/>
<rect x="192" y="442" width="1" height="1" fill="#000"/>
<rect x="192" y="444" width="1" height="8" fill="#000"/>
<rect x="192" y="454" width="1" height="1" fill="#000"/>
<text x="40.18" y="445" font-size="14" textLength="8.27" lengthAdjust="spacingAndGlyphs" class="g">B</text>
<text x="168.35" y="445" font-size="14" textLength="6.89" lengthAdjust="spacingAndGlyphs" class="g">E</text>
<text x="191.60" y="445" font-size="14" textLength="8.81" lengthAdjust="spacingAndGlyphs" class="g">S</text>
<rect x="253" y="331" width="163" height="1" fill="#000"/>
<rect x="253" y="455" width="163" height="1" fill="#000"/>
<rect x="253" y="331" width="1" height="125" fill="#000"/>
<rect x="415" y="331" width="1" height="125" fill="#000"/>
<rect x="257" y="332" width="1" height="1" fill="#000"/>
<rect x="257" y="454" width="1" height="1" fill="#000"/>
<rect x="265" y="332" width="1" height="2" fill="#000"/>
<rect x="265" y="453" width="1" height="2" fill="#000"/>
<rect x="273" y="332" width="1" height="1" fill="#000"/>
<rect x="273" y="454" width="1" height="1" fill="#000"/>
<rect x="281" y="332" width="1" height="1" fill="#000"/>
<rect x="281" y="454" width="1" height="1" fill="#000"/>
<rect x="289" y="332" width="1" height="2" fill="#000"/>
<rect x="289" y="453" width="1" height="2" fill="#000"/>
<rect x="297" y="332" width="1" height="1" fill="#000"/>
<rect x="297" y="454" width="1" height="1" fill="#000"/>
<rect x="305" y="332" width="1" height="1" fill="#000"/>
<rect x="305" y="454" width="1" height="1" fill="#000"/>
<rect x="313" y="332" width="1" height="2" fill="#000"/>
<rect x="313" y="453" width="1" height="2" fill="#000"/>
<rect x="321" y="332" width="1" height="1" fill="#000"/>
<rect x="321" y="454" width="1" height="1" fill="#000"/>
<rect x="329" y="332" width="1" height="1" fill="#000"/>
<rect x="329" y="454" width="1" height="1" fill="#000"/>
<rect x="337" y="332" width="1" height="2" fill="#000"/>
<rect x="337" y="453" width="1" height="2" fill="#000"/>
<rect x="346" y="332" width="1" height="1" fill="#000"/>
<rect x="346" y="454" width="1" height="1" fill="#000"/>
<rect x="354" y="332" width="1" height="1" fill="#000"/>
<rect x="354" y="454" width="1" height="1" fill="#000"/>
<rect x="362" y="332" width="1" height="2" fill="#000"/>
<rect x="362" y="453" width="1" height="2" fill="#000"/>
<rect x="370" y="332" width="1" height="1" fill="#000"/>
<rect x="370" y="454" width="1" height="1" fill="#000"/>
<rect x="378" y="332" width="1" height="1" fill="#000"/>
<rect x="378" y="454" width="1" height="1" fill="#000"/>
<rect x="386" y="332" width="1" height="2" fill="#000"/>
<rect x="386" y="453" width="1" height="2" fill="#000"/>
<rect x="394" y="332" width="1" height="1" fill="#000"/>
<rect x="394" y="454" width="1" height="1" fill="#000"/>
<rect x="402" y="332" width="1" height="1" fill="#000"/>
<rect x="402" y="454" width="1" height="1" fill="#000"/>
<rect x="410" y="332" width="1" height="2" fill="#000"/>
<rect x="410" y="453" width="1" height="2" fill="#000"/>
<text x="255.92" y="465" font-size="7.2" textLength="18.17" lengthAdjust="spacingAndGlyphs">02:30</text>
<text x="279.92" y="465" font-size="7.2" textLength="18.19" lengthAdjust="spacingAndGlyphs">02:45</text>
<text x="303.92" y="465" font-size="7.2" textLength="18.17" lengthAdjust="spacingAndGlyphs">03:00</text>
<text x="327.92" y="465" font-size="7.2" textLength="18.19" lengthAdjust="spacingAndGlyphs">03:15</text>
<text x="352.92" y="465" font-size="7.2" textLength="18.17" lengthAdjust="spacingAndGlyphs">03:30</text>
<text x="376.92" y="465" font-size="7.2" textLength="18.19" lengthAdjust="spacingAndGlyphs">03:45</text>
<text x="400.92" y="465" font-size="7.2" textLength="18.17" lengthAdjust="spacingAndGlyphs">04:00</text>
<text x="275.86" y="473" font-size="8.4" textLength="16.00" lengthAdjust="spacingAndGlyphs">Start</text>
<text x="295.04" y="473" font-size="8.4" textLength="16.08" lengthAdjust="spacingAndGlyphs">Time</text>
<text x="313.67" y="473" font-size="8.4" textLength="42.50" lengthAdjust="spacingAndGlyphs">(27-Nov-16</text>
<text x="359.90" y="473" font-size="8.4" textLength="32.37" lengthAdjust="spacingAndGlyphs">02:22:40)</text>
<text x="258.44" y="328" font-size="8.4" textLength="14.43" lengthAdjust="spacingAndGlyphs">Det</text>
<text x="276.85" y="328" font-size="8.4" textLength="7.08" lengthAdjust="spacingAndGlyphs">8r</text>
<text x="289.57" y="328" font-size="8.4" textLength="25.32" lengthAdjust="spacingAndGlyphs">BLACK</text>
<text x="319.64" y="328" font-size="8.4" textLength="6.73" lengthAdjust="spacingAndGlyphs">=</text>
<text x="330.46" y="328" font-size="8.4" textLength="30.15" lengthAdjust="spacingAndGlyphs">Events,</text>
<text x="363.55" y="328" font-size="8.4" textLength="16.62" lengthAdjust="spacingAndGlyphs">RED</text>
<text x="383.54" y="328" font-size="8.4" textLength="7.93" lengthAdjust="spacingAndGlyphs">=</text>
<text x="394.55" y="328" font-size="8.4" textLength="14.64" lengthAdjust="spacingAndGlyphs">LLD</text>
<text transform="translate(233,414.20) rotate(-90)" font-size="8.4" textLength="39.20" lengthAdjust="spacingAndGlyphs" class="c">Counts/sec</text>
<rect x="254" y="331" width="4" height="1" fill="#000"/>
<rect x="411" y="331" width="4" height="1" fill="#000"/>
<rect x="254" y="337" width="2" height="1" fill="#000"/>
<rect x="413" y="337" width="2" height="1" fill="#000"/>
<rect x="254" y="341" width="2" height="1" fill="#000"/>
<rect x="413" y="341" width="2" height="1" fill="#000"/>
<rect x="254" y="343" width="2" height="1" fill="#000"/>
<rect x="413" y="343" width="2" height="1" fill="#000"/>
<rect x="254" y="345" width="2" height="1" fill="#000"/>
<rect x="413" y="345" width="2" height="1" fill="#000"/>
<rect x="254" y="347" width="2" height="1" fill="#000"/>
<rect x="413" y="347" width="2" height="1" fill="#000"/>
<rect x="254" y="348" width="2" height="1" fill="#000"/>
<rect x="413" y="348" width="2" height="1" fill="#000"/>
<rect x="254" y="350" width="2" height="1" fill="#000"/>
<rect x="413" y="350" width="2" height="1" fill="#000"/>
<rect x="254" y="351" width="2" height="1" fill="#000"/>
<rect x="413" y="351" width="2" height="1" fill="#000"/>
<text x="237.70" y="336" font-size="7.2" textLength="7.36" lengthAdjust="spacingAndGlyphs">10</text>
<text x="244.89" y="333" font-size="6" textLength="6.22" lengthAdjust="spacingAndGlyphs" class="x">-6</text>
<rect x="254" y="352" width="4" height="1" fill="#000"/>
<rect x="411" y="352" width="4" height="1" fill="#000"/>
<rect x="254" y="358" width="2" height="1" fill="#000"/>
<rect x="413" y="358" width="2" height="1" fill="#000"/>
<rect x="254" y="362" width="2" height="1" fill="#000"/>
<rect x="413" y="362" width="2" height="1" fill="#000"/>
<rect x="254" y="364" width="2" height="1" fill="#000"/>
<rect x="413" y="364" width="2" height="1" fill="#000"/>
<rect x="254" y="366" width="2" height="1" fill="#000"/>
<rect x="413" y="366" width="2" height="1" fill="#000"/>
<rect x="254" y="368" width="2" height="1" fill="#000"/>
<rect x="413" y="368" width="2" height="1" fill="#000"/>
<rect x="254" y="369" width="2" height="1" fill="#000"/>
<rect x="413" y="369" width="2" height="1" fill="#000"/>
<rect x="254" y="370" width="2" height="1" fill="#000"/>
<rect x="413" y="370" width="2" height="1" fill="#000"/>
<rect x="254" y="371" width="2" height="1" fill="#000"/>
<rect x="413" y="371" width="2" height="1" fill="#000"/>
<text x="237.70" y="356" font-size="8.4" textLength="7.36" lengthAdjust="spacingAndGlyphs">10</text>
<text x="244.89" y="353" font-size="6" textLength="6.20" lengthAdjust="spacingAndGlyphs" class="x">-5</text>
<rect x="254" y="372" width="4" height="1" fill="#000"/>
<rect x="411" y="372" width="4" height="1" fill="#000"/>
<rect x="254" y="379" width="2" height="1" fill="#000"/>
<rect x="413" y="379" width="2" height="1" fill="#000"/>
<rect x="254" y="382" width="2" height="1" fill="#000"/>
<rect x="413" y="382" width="2" height="1" fill="#000"/>
<rect x="254" y="385" width="2" height="1" fill="#000"/>
<rect x="413" y="385" width="2" height="1" fill="#000"/>
<rect x="254" y="387" width="2" height="1" fill="#000"/>
<rect x="413" y="387" width="2" height="1" fill="#000"/>
<rect x="254" y="388" width="2" height="1" fill="#000"/>
<rect x="413" y="388" width="2" height="1" fill="#000"/>
<rect x="254" y="390" width="2" height="1" fill="#000"/>
<rect x="413" y="390" width="2" height="1" fill="#000"/>
<rect x="254" y="391" width="2" height="1" fill="#000"/>
<rect x="413" y="391" width="2" height="1" fill="#000"/>
<rect x="254" y="392" width="2" height="1" fill="#000"/>
<rect x="413" y="392" width="2" height="1" fill="#000"/>
<text x="237.70" y="376" font-size="8.4" textLength="7.36" lengthAdjust="spacingAndGlyphs">10</text>
<text x="244.89" y="373" font-size="6" textLength="6.11" lengthAdjust="spacingAndGlyphs" class="x">-4</text>
<rect x="254" y="393" width="4" height="1" fill="#000"/>
<rect x="411" y="393" width="4" height="1" fill="#000"/>
<rect x="254" y="399" width="2" height="1" fill="#000"/>
<rect x="413" y="399" width="2" height="1" fill="#000"/>
<rect x="254" y="403" width="2" height="1" fill="#000"/>
<rect x="413" y="403" width="2" height="1" fill="#000"/>
<rect x="254" y="405" width="2" height="1" fill="#000"/>
<rect x="413" y="405" width="2" height="1" fill="#000"/>
<rect x="254" y="407" width="2" height="1" fill="#000"/>
<rect x="413" y="407" width="2" height="1" fill="#000"/>
<rect x="254" y="409" width="2" height="1" fill="#000"/>
<rect x="413" y="409" width="2" height="1" fill="#000"/>
<rect x="254" y="410" width="2" height="1" fill="#000"/>
<rect x="413" y="410" width="2" height="1" fill="#000"/>
<rect x="254" y="412" width="2" height="1" fill="#000"/>
<rect x="413" y="412" width="2" height="1" fill="#000"/>
<rect x="254" y="413" width="2" height="1" fill="#000"/>
<rect x="413" y="413" width="2" height="1" fill="#000"/>
<text x="237.70" y="397" font-size="8.4" textLength="7.36" lengthAdjust="spacingAndGlyphs">10</text>
<text x="244.89" y="394" font-size="6" textLength="6.22" lengthAdjust="spacingAndGlyphs" class="x">-3</text>
<rect x="254" y="414" width="4" height="1" fill="#000"/>
<rect x="411" y="414" width="4" height="1" fill="#000"/>
<rect x="254" y="420" width="2" height="1" fill="#000"/>
<rect x="413" y="420" width="2" height="1" fill="#000"/>
<rect x="254" y="424" width="2" height="1" fill="#000"/>
<rect x="413" y="424" width="2" height="1" fill="#000"/>
<rect x="254" y="426" width="2" height="1" fill="#000"/>
<rect x="413" y="426" width="2" height="1" fill="#000"/>
<rect x="254" y="428" width="2" height="1" fill="#000"/>
<rect x="413" y="428" width="2" height="1" fill="#000"/>
<rect x="254" y="430" width="2" height="1" fill="#000"/>
<rect x="413" y="430" width="2" height="1" fill="#000"/>
<rect x="254" y="431" width="2" height="1" fill="#000"/>
<rect x="413" y="431" width="2" height="1" fill="#000"/>
<rect x="254" y="432" width="2" height="1" fill="#000"/>
<rect x="413" y="432" width="2" height="1" fill="#000"/>
<rect x="254" y="433" width="2" height="1" fill="#000"/>
<rect x="413" y="433" width="2" height="1" fill="#000"/>
<text x="237.70" y="418" font-size="8.4" textLength="7.36" lengthAdjust="spacingAndGlyphs">10</text>
<text x="244.89" y="415" font-size="6" textLength="6.27" lengthAdjust="spacingAndGlyphs" class="x">-2</text>
<rect x="254" y="434" width="4" height="1" fill="#000"/>
<rect x="411" y="434" width="4" height="1" fill="#000"/>
<rect x="254" y="441" width="2" height="1" fill="#000"/>
<rect x="413" y="441" width="2" height="1" fill="#000"/>
<rect x="254" y="444" width="2" height="1" fill="#000"/>
<rect x="413" y="444" width="2" height="1" fill="#000"/>
<rect x="254" y="447" width="2" height="1" fill="#000"/>
<rect x="413" y="447" width="2" height="1" fill="#000"/>
<rect x="254" y="449" width="2" height="1" fill="#000"/>
<rect x="413" y="449" width="2" height="1" fill="#000"/>
<rect x="254" y="450" width="2" height="1" fill="#000"/>
<rect x="413" y="450" width="2" height="1" fill="#000"/>
<rect x="254" y="452" width="2" height="1" fill="#000"/>
<rect x="413" y="452" width="2" height="1" fill="#000"/>
<rect x="254" y="453" width="2" height="1" fill="#000"/>
<rect x="413" y="453" width="2" height="1" fill="#000"/>
<rect x="254" y="454" width="2" height="1" fill="#000"/>
<rect x="413" y="454" width="2" height="1" fill="#000"/>
<text x="237.70" y="438" font-size="8.4" textLength="7.36" lengthAdjust="spacingAndGlyphs">10</text>
<text x="244.89" y="435" font-size="6" textLength="6.26" lengthAdjust="spacingAndGlyphs" class="x">-1</text>
<rect x="254" y="455" width="4" height="1" fill="#000"/>
<rect x="411" y="455" width="4" height="1" fill="#000"/>
<text x="240.70" y="456" font-size="8.4" textLength="7.36" lengthAdjust="spacingAndGlyphs">10</text>
<text x="247.99" y="453" font-size="6" textLength="3.02" lengthAdjust="spacingAndGlyphs" class="x">0</text>
<rect x="279" y="332" width="1" height="1" fill="#000"/>
<rect x="279" y="336" width="1" height="1" fill="#000"/>
<rect x="279" y="340" width="1" height="1" fill="#000"/>
<rect x="279" y="344" width="1" height="1" fill="#000"/>
<rect x="279" y="348" width="1" height="1" fill="#000"/>
<rect x="279" y="352" width="1" height="1" fill="#000"/>
<rect x="279" y="356" width="1" height="1" fill="#000"/>
<rect x="279" y="360" width="1" height="1" fill="#000"/>
<rect x="279" y="364" width="1" height="1" fill="#000"/>
<rect x="279" y="368" width="1" height="1" fill="#000"/>
<rect x="279" y="372" width="1" height="1" fill="#000"/>
<rect x="279" y="376" width="1" height="1" fill="#000"/>
<rect x="279" y="380" width="1" height="1" fill="#000"/>
<rect x="279" y="384" width="1" height="1" fill="#000"/>
<rect x="279" y="388" width="1" height="1" fill="#000"/>
<rect x="279" y="392" width="1" height="1" fill="#000"/>
<rect x="279" y="396" width="1" height="1" fill="#000"/>
<rect x="279" y="400" width="1" height="1" fill="#000"/>
<rect x="279" y="404" width="1" height="1" fill="#000"/>
<rect x="279" y="408" width="1" height="1" fill="#000"/>
<rect x="279" y="412" width="1" height="1" fill="#000"/>
<rect x="279" y="416" width="1" height="1" fill="#000"/>
<rect x="279" y="420" width="1" height="1" fill="#000"/>
<rect x="279" y="424" width="1" height="1" fill="#000"/>
<rect x="279" y="428" width="1" height="1" fill="#000"/>
<rect x="279" y="432" width="1" height="1" fill="#000"/>
<rect x="279" y="436" width="1" height="1" fill="#000"/>
<rect x="279" y="440" width="1" height="1" fill="#000"/>
<rect x="279" y="444" width="1" height="1" fill="#000"/>
<rect x="279" y="448" width="1" height="1" fill="#000"/>
<rect x="279" y="452" width="1" height="1" fill="#000"/>
<rect x="294" y="332" width="1" height="5" fill="#000"/>
<rect x="294" y="344" width="1" height="7" fill="#000"/>
<rect x="294" y="358" width="1" height="7" fill="#000"/>
<rect x="294" y="372" width="1" height="7" fill="#000"/>
<rect x="294" y="386" width="1" height="7" fill="#000"/>
<rect x="294" y="400" width="1" height="7" fill="#000"/>
<rect x="294" y="414" width="1" height="7" fill="#000"/>
<rect x="294" y="428" width="1" height="7" fill="#000"/>
<rect x="294" y="442" width="1" height="7" fill="#000"/>
<rect x="380" y="333" width="1" height="1" fill="#000"/>
<rect x="380" y="337" width="1" height="1" fill="#000"/>
<rect x="380" y="341" width="1" height="1" fill="#000"/>
<rect x="380" y="345" width="1" height="1" fill="#000"/>
<rect x="380" y="349" width="1" height="1" fill="#000"/>
<rect x="380" y="353" width="1" height="1" fill="#000"/>
<rect x="380" y="357" width="1" height="1" fill="#000"/>
<rect x="380" y="361" width="1" height="1" fill="#000"/>
<rect x="380" y="365" width="1" height="1" fill="#000"/>
<rect x="380" y="369" width="1" height="1" fill="#000"/>
<rect x="380" y="373" width="1" height="1" fill="#000"/>
<rect x="380" y="377" width="1" height="1" fill="#000"/>
<rect x="380" y="381" width="1" height="1" fill="#000"/>
<rect x="380" y="385" width="1" height="1" fill="#000"/>
<rect x="380" y="389" width="1" height="1" fill="#000"/>
<rect x="380" y="393" width="1" height="1" fill="#000"/>
<rect x="380" y="397" width="1" height="1" fill="#000"/>
<rect x="380" y="401" width="1" height="1" fill="#000"/>
<rect x="380" y="405" width="1" height="1" fill="#000"/>
<rect x="380" y="409" width="1" height="1" fill="#000"/>
<rect x="380" y="413" width="1" height="1" fill="#000"/>
<rect x="380" y="417" width="1" height="1" fill="#000"/>
<rect x="380" y="421" width="1" height="1" fill="#000"/>
<rect x="380" y="425" width="1" height="1" fill="#000"/>
<rect x="380" y="429" width="1" height="1" fill="#000"/>
<rect x="380" y="433" width="1" height="1" fill="#000"/>
<rect x="380" y="437" width="1" height="1" fill="#000"/>
<rect x="380" y="441" width="1" height="1" fill="#000"/>
<rect x="380" y="445" width="1" height="1" fill="#000"/>
<rect x="380" y="449" width="1" height="1" fill="#000"/>
<rect x="380" y="453" width="1" height="1" fill="#000"/>
<rect x="405" y="332" width="1" height="4" fill="#000"/>
<rect x="405" y="338" width="1" height="1" fill="#000"/>
<rect x="405" y="342" width="1" height="9" fill="#000"/>
<rect x="405" y="354" width="1" height="1" fill="#000"/>
<rect x="405" y="356" width="1" height="8" fill="#000"/>
<rect x="405" y="366" width="1" height="1" fill="#000"/>
<rect x="405" y="370" width="1" height="9" fill="#000"/>
<rect x="405" y="382" width="1" height="1" fill="#000"/>
<rect x="405" y="384" width="1" height="8" fill="#000"/>
<rect x="405" y="394" width="1" height="1" fill="#000"/>
<rect x="405" y="398" width="1" height="9" fill="#000"/>
<rect x="405" y="410" width="1" height="1" fill="#000"/>
<rect x="405" y="412" width="1" height="8" fill="#000"/>
<rect x="405" y="422" width="1" height="1" fill="#000"/>
<rect x="405" y="426" width="1" height="9" fill="#000"/>
<rect x="405" y="438" width="1" height="1" fill="#000"/>
<rect x="405" y="440" width="1" height="8" fill="#000"/>
<rect x="405" y="450" width="1" height="1" fill="#000"/>
<rect x="405" y="454" width="1" height="1" fill="#000"/>
<text x="253.18" y="445" font-size="14" textLength="8.27" lengthAdjust="spacingAndGlyphs" class="g">B</text>
<text x="381.20" y="445" font-size="14" textLength="8.12" lengthAdjust="spacingAndGlyphs" class="g">E</text>
<text x="404.60" y="445" font-size="14" textLength="8.81" lengthAdjust="spacingAndGlyphs" class="g">S</text>
<rect x="467" y="331" width="162" height="1" fill="#000"/>
<rect x="467" y="455" width="162" height="1" fill="#000"/>
<rect x="467" y="331" width="1" height="125" fill="#000"/>
<rect x="628" y="331" width="1" height="125" fill="#000"/>
<rect x="471" y="332" width="1" height="1" fill="#000"/>
<rect x="471" y="454" width="1" height="1" fill="#000"/>
<rect x="479" y="332" width="1" height="2" fill="#000"/>
<rect x="479" y="453" width="1" height="2" fill="#000"/>
<rect x="487" y="332" width="1" height="1" fill="#000"/>
<rect x="487" y="454" width="1" height="1" fill="#000"/>
<rect x="495" y="332" width="1" height="1" fill="#000"/>
<rect x="495" y="454" width="1" height="1" fill="#000"/>
<rect x="503" y="332" width="1" height="2" fill="#000"/>
<rect x="503" y="453" width="1" height="2" fill="#000"/>
<rect x="511" y="332" width="1" height="1" fill="#000"/>
<rect x="511" y="454" width="1" height="1" fill="#000"/>
<rect x="519" y="332" width="1" height="1" fill="#000"/>
<rect x="519" y="454" width="1" height="1" fill="#000"/>
<rect x="527" y="332" width="1" height="2" fill="#000"/>
<rect x="527" y="453" width="1" height="2" fill="#000"/>
<rect x="535" y="332" width="1" height="1" fill="#000"/>
<rect x="535" y="454" width="1" height="1" fill="#000"/>
<rect x="543" y="332" width="1" height="1" fill="#000"/>
<rect x="543" y="454" width="1" height="1" fill="#000"/>
<rect x="551" y="332" width="1" height="2" fill="#000"/>
<rect x="551" y="453" width="1" height="2" fill="#000"/>
<rect x="560" y="332" width="1" height="1" fill="#000"/>
<rect x="560" y="454" width="1" height="1" fill="#000"/>
<rect x="568" y="332" width="1" height="1" fill="#000"/>
<rect x="568" y="454" width="1" height="1" fill="#000"/>
<rect x="576" y="332" width="1" height="2" fill="#000"/>
<rect x="576" y="453" width="1" height="2" fill="#000"/>
<rect x="584" y="332" width="1" height="1" fill="#000"/>
<rect x="584" y="454" width="1" height="1" fill="#000"/>
<rect x="592" y="332" width="1" height="1" fill="#000"/>
<rect x="592" y="454" width="1" height="1" fill="#000"/>
<rect x="600" y="332" width="1" height="2" fill="#000"/>
<rect x="600" y="453" width="1" height="2" fill="#000"/>
<rect x="608" y="332" width="1" height="1" fill="#000"/>
<rect x="608" y="454" width="1" height="1" fill="#000"/>
<rect x="616" y="332" width="1" height="1" fill="#000"/>
<rect x="616" y="454" width="1" height="1" fill="#000"/>
<rect x="624" y="332" width="1" height="2" fill="#000"/>
<rect x="624" y="453" width="1" height="2" fill="#000"/>
<text x="469.92" y="465" font-size="7.2" textLength="18.17" lengthAdjust="spacingAndGlyphs">02:30</text>
<text x="493.92" y="465" font-size="7.2" textLength="18.19" lengthAdjust="spacingAndGlyphs">02:45</text>
<text x="517.92" y="465" font-size="7.2" textLength="18.17" lengthAdjust="spacingAndGlyphs">03:00</text>
<text x="541.92" y="465" font-size="7.2" textLength="18.19" lengthAdjust="spacingAndGlyphs">03:15</text>
<text x="566.92" y="465" font-size="7.2" textLength="18.17" lengthAdjust="spacingAndGlyphs">03:30</text>
<text x="590.92" y="465" font-size="7.2" textLength="18.19" lengthAdjust="spacingAndGlyphs">03:45</text>
<text x="614.92" y="465" font-size="7.2" textLength="18.17" lengthAdjust="spacingAndGlyphs">04:00</text>
<text x="489.86" y="473" font-size="8.4" textLength="16.00" lengthAdjust="spacingAndGlyphs">Start</text>
<text x="509.04" y="473" font-size="8.4" textLength="16.08" lengthAdjust="spacingAndGlyphs">Time</text>
<text x="527.67" y="473" font-size="8.4" textLength="42.50" lengthAdjust="spacingAndGlyphs">(27-Nov-16</text>
<text x="573.90" y="473" font-size="8.4" textLength="32.37" lengthAdjust="spacingAndGlyphs">02:22:40)</text>
<text x="472.44" y="328" font-size="8.4" textLength="14.43" lengthAdjust="spacingAndGlyphs">Det</text>
<text x="490.83" y="328" font-size="8.4" textLength="7.11" lengthAdjust="spacingAndGlyphs">9r</text>
<text x="503.57" y="328" font-size="8.4" textLength="25.32" lengthAdjust="spacingAndGlyphs">BLACK</text>
<text x="533.64" y="328" font-size="8.4" textLength="6.73" lengthAdjust="spacingAndGlyphs">=</text>
<text x="544.46" y="328" font-size="8.4" textLength="30.15" lengthAdjust="spacingAndGlyphs">Events,</text>
<text x="577.55" y="328" font-size="8.4" textLength="16.62" lengthAdjust="spacingAndGlyphs">RED</text>
<text x="597.54" y="328" font-size="8.4" textLength="7.93" lengthAdjust="spacingAndGlyphs">=</text>
<text x="608.55" y="328" font-size="8.4" textLength="14.64" lengthAdjust="spacingAndGlyphs">LLD</text>
<text transform="translate(447,414.20) rotate(-90)" font-size="8.4" textLength="39.20" lengthAdjust="spacingAndGlyphs" class="c">Counts/sec</text>
<rect x="468" y="455" width="3" height="1" fill="#000"/>
<rect x="625" y="455" width="3" height="1" fill="#000"/>
<rect x="468" y="443" width="1" height="1" fill="#000"/>
<rect x="626" y="443" width="2" height="1" fill="#000"/>
<rect x="468" y="435" width="1" height="1" fill="#000"/>
<rect x="626" y="435" width="2" height="1" fill="#000"/>
<rect x="468" y="430" width="1" height="1" fill="#000"/>
<rect x="626" y="430" width="2" height="1" fill="#000"/>
<rect x="468" y="426" width="1" height="1" fill="#000"/>
<rect x="626" y="426" width="2" height="1" fill="#000"/>
<rect x="468" y="423" width="1" height="1" fill="#000"/>
<rect x="626" y="423" width="2" height="1" fill="#000"/>
<rect x="468" y="420" width="1" height="1" fill="#000"/>
<rect x="626" y="420" width="2" height="1" fill="#000"/>
<rect x="468" y="418" width="1" height="1" fill="#000"/>
<rect x="626" y="418" width="2" height="1" fill="#000"/>
<rect x="468" y="416" width="1" height="1" fill="#000"/>
<rect x="626" y="416" width="2" height="1" fill="#000"/>
<text x="461.92" y="456" font-size="7.2" textLength="2.06" lengthAdjust="spacingAndGlyphs">1</text>
<rect x="468" y="414" width="3" height="1" fill="#000"/>
<rect x="625" y="414" width="3" height="1" fill="#000"/>
<rect x="468" y="401" width="1" height="1" fill="#000"/>
<rect x="626" y="401" width="2" height="1" fill="#000"/>
<rect x="468" y="394" width="1" height="1" fill="#000"/>
<rect x="626" y="394" width="2" height="1" fill="#000"/>
<rect x="468" y="389" width="1" height="1" fill="#000"/>
<rect x="626" y="389" width="2" height="1" fill="#000"/>
<rect x="468" y="385" width="1" height="1" fill="#000"/>
<rect x="626" y="385" width="2" height="1" fill="#000"/>
<rect x="468" y="382" width="1" height="1" fill="#000"/>
<rect x="626" y="382" width="2" height="1" fill="#000"/>
<rect x="468" y="379" width="1" height="1" fill="#000"/>
<rect x="626" y="379" width="2" height="1" fill="#000"/>
<rect x="468" y="376" width="1" height="1" fill="#000"/>
<rect x="626" y="376" width="2" height="1" fill="#000"/>
<rect x="468" y="374" width="1" height="1" fill="#000"/>
<rect x="626" y="374" width="2" height="1" fill="#000"/>
<text x="456.62" y="417" font-size="7.2" textLength="8.48" lengthAdjust="spacingAndGlyphs">10</text>
<rect x="468" y="372" width="3" height="1" fill="#000"/>
<rect x="625" y="372" width="3" height="1" fill="#000"/>
<rect x="468" y="360" width="1" height="1" fill="#000"/>
<rect x="626" y="360" width="2" height="1" fill="#000"/>
<rect x="468" y="353" width="1" height="1" fill="#000"/>
<rect x="626" y="353" width="2" height="1" fill="#000"/>
<rect x="468" y="347" width="1" height="1" fill="#000"/>
<rect x="626" y="347" width="2" height="1" fill="#000"/>
<rect x="468" y="343" width="1" height="1" fill="#000"/>
<rect x="626" y="343" width="2" height="1" fill="#000"/>
<rect x="468" y="340" width="1" height="1" fill="#000"/>
<rect x="626" y="340" width="2" height="1" fill="#000"/>
<rect x="468" y="337" width="1" height="1" fill="#000"/>
<rect x="626" y="337" width="2" height="1" fill="#000"/>
<rect x="468" y="335" width="1" height="1" fill="#000"/>
<rect x="626" y="335" width="2" height="1" fill="#000"/>
<rect x="468" y="333" width="1" height="1" fill="#000"/>
<rect x="626" y="333" width="2" height="1" fill="#000"/>
<text x="452.63" y="376" font-size="8.4" textLength="12.46" lengthAdjust="spacingAndGlyphs">100</text>
<rect x="468" y="331" width="3" height="1" fill="#000"/>
<rect x="625" y="331" width="3" height="1" fill="#000"/>
<text x="448.64" y="336" font-size="7.2" textLength="16.45" lengthAdjust="spacingAndGlyphs">1000</text>
<rect x="492" y="332" width="1" height="1" fill="#000"/>
<rect x="492" y="336" width="1" height="1" fill="#000"/>
<rect x="492" y="340" width="1" height="1" fill="#000"/>
<rect x="492" y="344" width="1" height="1" fill="#000"/>
<rect x="492" y="348" width="1" height="1" fill="#000"/>
<rect x="492" y="352" width="1" height="1" fill="#000"/>
<rect x="492" y="356" width="1" height="1" fill="#000"/>
<rect x="492" y="360" width="1" height="1" fill="#000"/>
<rect x="492" y="364" width="1" height="1" fill="#000"/>
<rect x="492" y="368" width="1" height="1" fill="#000"/>
<rect x="492" y="372" width="1" height="1" fill="#000"/>
<rect x="492" y="376" width="1" height="1" fill="#000"/>
<rect x="492" y="380" width="1" height="1" fill="#000"/>
<rect x="492" y="384" width="1" height="1" fill="#000"/>
<rect x="492" y="388" width="1" height="1" fill="#000"/>
<rect x="492" y="392" width="1" height="1" fill="#000"/>
<rect x="492" y="396" width="1" height="1" fill="#000"/>
<rect x="492" y="400" width="1" height="1" fill="#000"/>
<rect x="492" y="404" width="1" height="1" fill="#000"/>
<rect x="492" y="408" width="1" height="1" fill="#000"/>
<rect x="492" y="412" width="1" height="1" fill="#000"/>
<rect x="492" y="416" width="1" height="1" fill="#000"/>
<rect x="492" y="420" width="1" height="1" fill="#000"/>
<rect x="492" y="424" width="1" height="1" fill="#000"/>
<rect x="492" y="428" width="1" height="1" fill="#000"/>
<rect x="492" y="432" width="1" height="1" fill="#000"/>
<rect x="492" y="436" width="1" height="1" fill="#000"/>
<rect x="492" y="440" width="1" height="1" fill="#000"/>
<rect x="492" y="444" width="1" height="1" fill="#000"/>
<rect x="492" y="448" width="1" height="1" fill="#000"/>
<rect x="492" y="452" width="1" height="1" fill="#000"/>
<rect x="507" y="332" width="1" height="1" fill="#000"/>
<rect x="507" y="340" width="1" height="7" fill="#000"/>
<rect x="507" y="354" width="1" height="7" fill="#000"/>
<rect x="507" y="368" width="1" height="7" fill="#000"/>
<rect x="507" y="382" width="1" height="7" fill="#000"/>
<rect x="507" y="396" width="1" height="7" fill="#000"/>
<rect x="507" y="410" width="1" height="7" fill="#000"/>
<rect x="507" y="424" width="1" height="7" fill="#000"/>
<rect x="507" y="438" width="1" height="7" fill="#000"/>
<rect x="507" y="452" width="1" height="3" fill="#000"/>
<rect x="594" y="333" width="1" height="1" fill="#000"/>
<rect x="594" y="337" width="1" height="1" fill="#000"/>
<rect x="594" y="341" width="1" height="1" fill="#000"/>
<rect x="594" y="345" width="1" height="1" fill="#000"/>
<rect x="594" y="349" width="1" height="1" fill="#000"/>
<rect x="594" y="353" width="1" height="1" fill="#000"/>
<rect x="594" y="357" width="1" height="1" fill="#000"/>
<rect x="594" y="361" width="1" height="1" fill="#000"/>
<rect x="594" y="365" width="1" height="1" fill="#000"/>
<rect x="594" y="369" width="1" height="1" fill="#000"/>
<rect x="594" y="373" width="1" height="1" fill="#000"/>
<rect x="594" y="377" width="1" height="1" fill="#000"/>
<rect x="594" y="381" width="1" height="1" fill="#000"/>
<rect x="594" y="385" width="1" height="1" fill="#000"/>
<rect x="594" y="389" width="1" height="1" fill="#000"/>
<rect x="594" y="393" width="1" height="1" fill="#000"/>
<rect x="594" y="397" width="1" height="1" fill="#000"/>
<rect x="594" y="401" width="1" height="1" fill="#000"/>
<rect x="594" y="405" width="1" height="1" fill="#000"/>
<rect x="594" y="409" width="1" height="1" fill="#000"/>
<rect x="594" y="413" width="1" height="1" fill="#000"/>
<rect x="594" y="417" width="1" height="1" fill="#000"/>
<rect x="594" y="421" width="1" height="1" fill="#000"/>
<rect x="594" y="425" width="1" height="1" fill="#000"/>
<rect x="594" y="429" width="1" height="1" fill="#000"/>
<rect x="594" y="433" width="1" height="1" fill="#000"/>
<rect x="594" y="437" width="1" height="1" fill="#000"/>
<rect x="594" y="441" width="1" height="1" fill="#000"/>
<rect x="594" y="445" width="1" height="1" fill="#000"/>
<rect x="594" y="449" width="1" height="1" fill="#000"/>
<rect x="594" y="453" width="1" height="1" fill="#000"/>
<rect x="619" y="334" width="1" height="1" fill="#000"/>
<rect x="619" y="338" width="1" height="9" fill="#000"/>
<rect x="619" y="350" width="1" height="1" fill="#000"/>
<rect x="619" y="352" width="1" height="8" fill="#000"/>
<rect x="619" y="362" width="1" height="1" fill="#000"/>
<rect x="619" y="366" width="1" height="9" fill="#000"/>
<rect x="619" y="378" width="1" height="1" fill="#000"/>
<rect x="619" y="380" width="1" height="8" fill="#000"/>
<rect x="619" y="390" width="1" height="1" fill="#000"/>
<rect x="619" y="394" width="1" height="9" fill="#000"/>
<rect x="619" y="406" width="1" height="1" fill="#000"/>
<rect x="619" y="408" width="1" height="8" fill="#000"/>
<rect x="619" y="418" width="1" height="1" fill="#000"/>
<rect x="619" y="422" width="1" height="9" fill="#000"/>
<rect x="619" y="434" width="1" height="1" fill="#000"/>
<rect x="619" y="436" width="1" height="8" fill="#000"/>
<rect x="619" y="446" width="1" height="1" fill="#000"/>
<rect x="619" y="450" width="1" height="5" fill="#000"/>
<text x="467.18" y="338" font-size="13" textLength="8.27" lengthAdjust="spacingAndGlyphs" class="g">B</text>
<text x="594.20" y="338" font-size="13" textLength="8.12" lengthAdjust="spacingAndGlyphs" class="g">E</text>
<text x="619.60" y="338" font-size="13" textLength="8.81" lengthAdjust="spacingAndGlyphs" class="g">S</text>
<polyline points="510,51 510,49 511,49 512,50 513,51 514,51 514,48 515,48 515,39 516,39 517,41 520,41 521,42 523,43 524,44 526,45 527,46 529,45 530,46 531,47 534,46 535,47 536,48 537,47 541,47 541,48 546,48 546,47 547,48 548,47 549,48 553,48 553,47 557,47 558,46 561,46 562,45 563,45 564,44 566,44 567,43 571,43 572,44 573,43 576,43 576,42 577,42 577,50 578,51 578,57 579,55 581,55 582,56 583,57 584,57 585,56 586,57 587,58 588,58 589,59 590,57 591,58 592,59 594,59 594,56 595,56 595,46 597,47 598,47 599,48 600,47 601,48 603,48 603,49 604,48 609,48 610,49 612,49 613,48 616,48 617,47 617,45 618,45 618,47" fill="none" stroke="#000" stroke-width="1"/>
<polyline points="501,11 502,12 503,14 503,15 504,17 505,20 506,22 507,25 508,27 508,29 509,30 511,31 512,32 513,33 514,34 516,35 517,36 518,37 519,38 520,38 521,39 522,39 523,40 524,40 525,41 526,41 527,42 529,42 530,43 532,43 534,44 536,44 538,43 540,43 541,44 546,44 547,45 548,45 549,43 550,44 553,44 554,43 557,43 558,42 560,41 563,41 564,40 566,40 567,39 572,39 573,38 582,38 583,39 585,39 586,40 589,40 590,41 591,41 592,42 595,42 596,43 600,43 601,44 604,44 605,43 606,43 607,44 609,44 610,45 611,45 612,44 615,44 616,43 617,41 618,39 619,38" fill="none" stroke="#f00" stroke-width="1"/>
<polyline points="510,375 510,372 511,372 512,373 513,374 514,374 515,373 515,363 516,363 517,365 518,366 519,367 521,368 522,368 523,369 524,370 525,372 526,373 528,374 529,376 530,378 530,380 531,381 531,383 532,384 532,386 533,387 534,388 535,386 536,385 536,382 537,377 539,378 540,380 540,382 541,383 541,385 542,386 543,387 543,388 544,389 544,390 545,388 546,387 547,386 548,387 548,388 549,390 550,391 552,391 552,389 553,389 554,390 555,390 555,387 556,388 557,387 557,386 558,384 559,383 561,383 562,381 562,379 563,377 564,375 566,375 567,373 568,371 569,369 571,369 572,368 574,368 575,366 577,366 577,374 578,374 578,378 582,378 582,379 585,379 585,380 590,380 590,381 594,381 594,369 595,369 600,369 601,370 603,370 603,372 604,370 607,370 608,372 609,370 615,370 616,370 617,369 618,368 619,368" fill="none" stroke="#000" stroke-width="1"/>
<polyline points="502,331 502,333 503,335 504,336 505,337 505,339 506,341 506,344 507,346 508,348 508,350 509,351 510,353 511,354 512,355 513,356 513,358 516,358 517,359 518,360 519,361 520,362 521,363 523,364 524,366 526,368 527,369 528,370 529,371 530,372 530,374 531,375 531,377 532,378 532,379 533,380 534,380 535,379 536,377 536,374 537,372 539,373 540,374 540,375 541,376 541,377 542,378 543,379 544,380 544,381 545,380 546,379 547,378 548,379 548,380 549,381 550,381 551,380 553,380 554,379 555,379 556,378 557,376 558,375 559,374 560,373 561,373 562,372 563,370 564,368 566,368 567,366 568,365 569,364 570,363 571,363 572,362 573,361 574,361 575,360 576,361 577,360 583,360 584,361 588,361 589,362 590,363 595,363 596,364 600,364 601,365 602,366 605,366 605,365 606,366 615,366 616,365 617,364 618,362 618,360 619,359" fill="none" stroke="#f00" stroke-width="1"/>
</svg>
</body></html>
